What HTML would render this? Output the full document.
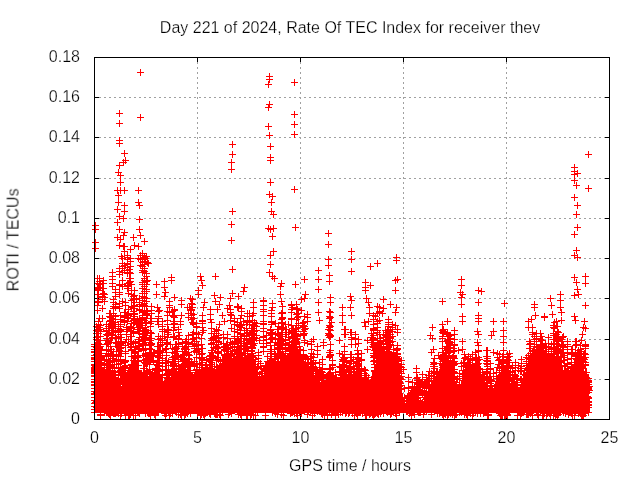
<!DOCTYPE html>
<html><head><meta charset="utf-8"><style>
html,body{margin:0;padding:0;background:#fff;width:640px;height:480px;overflow:hidden}
svg{display:block} .tx{will-change:transform}
svg text{font-family:"Liberation Sans",sans-serif;font-size:16px;fill:#000;stroke:#fff;stroke-width:0.25px}
</style></head><body>
<svg width="640" height="480" viewBox="0 0 640 480" shape-rendering="crispEdges">
<rect width="640" height="480" fill="#fff"/>
<path d="M197.5 57V419 M300.5 57V419 M403.5 57V419 M506.5 57V419 M94 379.5H609 M94 339.5H609 M94 298.5H609 M94 258.5H609 M94 218.5H609 M94 178.5H609 M94 137.5H609 M94 97.5H609" stroke="#a0a0a0" stroke-width="1" stroke-dasharray="2 3" fill="none"/>
<path d="M94.5 419v-5M94.5 57v5M197.5 419v-5M197.5 57v5M300.5 419v-5M300.5 57v5M403.5 419v-5M403.5 57v5M506.5 419v-5M506.5 57v5M609.5 419v-5M609.5 57v5M94 419.5h5M610 419.5h-5M94 379.5h5M610 379.5h-5M94 339.5h5M610 339.5h-5M94 298.5h5M610 298.5h-5M94 258.5h5M610 258.5h-5M94 218.5h5M610 218.5h-5M94 178.5h5M610 178.5h-5M94 137.5h5M610 137.5h-5M94 97.5h5M610 97.5h-5M94 57.5h5M610 57.5h-5" stroke="#000" stroke-width="1" fill="none"/>
<path d="M94 413L94 357 95 357 96 357 97 357 98 357 99 357 100 357 101 362 102 367 103 372 104 372 105 372 106 372 107 372 108 372 109 372 110 372 111 372 112 372 113 372 114 375 115 377 116 380 117 382 118 385 119 387 120 390 121 387 122 385 123 382 124 380 125 377 126 374 127 372 128 369 129 367 130 364 131 365 132 365 133 366 134 366 135 367 136 368 137 368 138 369 139 370 140 371 141 372 142 373 143 374 144 375 145 376 146 377 147 378 148 379 149 378 150 377 151 376 152 375 153 374 154 373 155 372 156 374 157 375 158 376 159 378 160 380 161 381 162 382 163 384 164 384 165 384 166 384 167 384 168 384 169 384 170 384 171 384 172 384 173 384 174 381 175 378 176 375 177 373 178 370 179 367 180 364 181 365 182 366 183 366 184 367 185 368 186 369 187 369 188 370 189 371 190 372 191 372 192 373 193 374 194 373 195 373 196 372 197 371 198 370 199 370 200 369 201 368 202 368 203 367 204 367 205 367 206 368 207 368 208 368 209 368 210 368 211 369 212 369 213 369 214 369 215 369 216 368 217 368 218 368 219 368 220 368 221 367 222 367 223 367 224 366 225 366 226 366 227 365 228 364 229 364 230 364 231 363 232 362 233 362 234 362 235 361 236 360 237 360 238 360 239 359 240 358 241 358 242 358 243 357 244 356 245 356 246 356 247 355 248 354 249 354 250 354 251 353 252 352 253 352 254 357 255 362 256 367 257 372 258 377 259 378 260 378 261 379 262 379 263 380 264 376 265 372 266 368 267 364 268 360 269 360 270 360 271 361 272 361 273 361 274 361 275 361 276 362 277 362 278 362 279 361 280 360 281 359 282 359 283 358 284 357 285 356 286 355 287 354 288 353 289 352 290 352 291 351 292 350 293 349 294 350 295 350 296 351 297 352 298 353 299 353 300 354 301 356 302 357 303 359 304 360 305 362 306 364 307 365 308 367 309 368 310 370 311 372 312 373 313 374 314 376 315 378 316 379 317 380 318 382 319 383 320 384 321 385 322 386 323 387 324 385 325 383 326 381 327 378 328 376 329 374 330 372 331 373 332 374 333 375 334 376 335 376 336 377 337 378 338 379 339 379 340 379 341 378 342 378 343 378 344 378 345 378 346 377 347 377 348 377 349 378 350 378 351 378 352 379 353 380 354 380 355 380 356 381 357 382 358 382 359 382 360 383 361 384 362 384 363 384 364 385 365 386 366 386 367 386 368 387 369 384 370 381 371 378 372 375 373 372 374 369 375 366 376 363 377 360 378 357 379 356 380 356 381 355 382 354 383 353 384 353 385 352 386 353 387 353 388 354 389 355 390 356 391 356 392 357 393 360 394 363 395 366 396 370 397 373 398 376 399 379 400 382 401 386 402 391 403 395 404 400 405 404 406 404 407 404 408 405 409 405 410 405 411 405 412 405 413 406 414 406 415 406 416 406 417 405 418 404 419 404 420 404 421 403 422 402 423 402 424 400 425 397 426 395 427 392 428 390 429 388 430 386 431 384 432 382 433 380 434 378 435 377 436 375 437 374 438 372 439 371 440 369 441 367 442 364 443 362 444 359 445 357 446 358 447 358 448 359 449 360 450 361 451 361 452 362 453 368 454 373 455 378 456 384 457 385 458 386 459 386 460 387 461 382 462 378 463 374 464 369 465 368 466 368 467 368 468 367 469 366 470 366 471 366 472 367 473 367 474 367 475 368 476 368 477 368 478 368 479 369 480 369 481 374 482 378 483 383 484 387 485 392 486 392 487 392 488 391 489 391 490 391 491 390 492 390 493 390 494 387 495 384 496 380 497 377 498 374 499 373 500 373 501 372 502 372 503 371 504 371 505 370 506 372 507 375 508 377 509 380 510 382 511 384 512 387 513 388 514 388 515 388 516 389 517 390 518 390 519 388 520 386 521 384 522 382 523 379 524 376 525 374 526 371 527 368 528 366 529 363 530 360 531 360 532 359 533 358 534 358 535 358 536 357 537 356 538 356 539 356 540 355 541 355 542 355 543 355 544 355 545 354 546 354 547 354 548 354 549 354 550 354 551 354 552 355 553 355 554 356 555 356 556 356 557 357 558 357 559 358 560 358 561 361 562 365 563 368 564 371 565 375 566 378 567 377 568 376 569 375 570 374 571 373 572 372 573 372 574 371 575 370 576 370 577 370 578 369 579 368 580 368 581 368 582 367 583 369 584 370 585 372 586 373 587 375 588 376 589 378L590 413Z" fill="#f00"/>
<path transform="translate(0 .5)" d="M91 344h7M91 349h7M91 351h7M91 359h7M91 364h7M91 369h7M91 351h7M91 355h7M91 357h7M91 365h7M91 370h7M91 368h7M91 372h7M91 371h7M91 375h7M91 379h7M91 381h7M91 384h7M91 393h7M91 391h7M91 400h7M91 403h7M92 359h7M92 357h7M92 361h7M92 366h7M92 370h7M92 402h7M93 326h7M93 330h7M93 333h7M93 337h7M93 339h7M93 347h7M93 354h7M93 359h7M93 369h7M93 372h7M93 376h7M93 382h7M93 381h7M93 392h7M93 392h7M93 397h7M93 401h7M93 407h7M94 278h7M94 283h7M94 288h7M94 289h7M94 294h7M94 301h7M94 310h7M94 305h7M94 327h7M94 331h7M94 337h7M94 336h7M94 342h7M94 345h7M94 337h7M94 340h7M94 343h7M94 346h7M94 352h7M94 349h7M94 346h7M94 350h7M94 354h7M94 358h7M95 287h7M95 290h7M95 294h7M95 302h7M95 321h7M95 324h7M95 329h7M95 343h7M95 346h7M95 353h7M95 355h7M95 362h7M95 330h7M95 333h7M95 340h7M95 344h7M95 351h7M95 348h7M95 360h7M95 361h7M96 278h7M96 281h7M96 284h7M96 318h7M96 327h7M96 344h7M96 348h7M96 347h7M96 350h7M96 357h7M96 355h7M96 360h7M96 364h7M96 364h7M97 283h7M97 287h7M97 325h7M97 329h7M97 331h7M97 336h7M97 340h7M97 346h7M97 350h7M97 356h7M97 359h7M97 353h7M97 368h7M97 365h7M97 369h7M97 374h7M97 367h7M97 370h7M97 411h7M97 414h7M97 415h7M98 358h7M98 362h7M98 360h7M98 364h7M98 367h7M98 349h7M98 353h7M98 357h7M98 363h7M98 364h7M98 365h7M98 373h7M98 358h7M98 363h7M98 368h7M98 374h7M99 283h7M99 288h7M99 294h7M99 297h7M99 296h7M99 299h7M99 308h7M99 318h7M99 372h7M100 280h7M100 283h7M100 288h7M100 293h7M100 370h7M100 371h7M101 294h7M101 297h7M101 301h7M101 364h7M101 367h7M101 371h7M101 412h7M103 330h7M103 334h7M103 324h7M103 328h7M103 331h7M103 338h7M103 344h7M103 350h7M103 356h7M103 350h7M103 355h7M103 369h7M103 349h7M103 353h7M103 359h7M103 363h7M103 363h7M103 370h7M103 372h7M103 411h7M103 411h7M103 412h7M103 412h7M104 335h7M104 340h7M104 343h7M104 365h7M105 326h7M105 330h7M105 333h7M105 342h7M105 343h7M105 341h7M105 349h7M105 360h7M105 354h7M105 370h7M105 361h7M105 413h7M105 412h7M106 313h7M106 316h7M106 321h7M106 324h7M106 328h7M106 365h7M106 414h7M107 313h7M107 317h7M107 320h7M107 342h7M107 346h7M107 351h7M107 356h7M107 361h7M107 365h7M107 366h7M107 362h7M107 365h7M107 370h7M107 372h7M107 413h7M107 415h7M108 328h7M108 316h7M108 321h7M108 325h7M108 327h7M108 334h7M108 338h7M108 349h7M108 338h7M108 351h7M108 375h7M109 272h7M109 276h7M109 279h7M109 283h7M109 286h7M109 318h7M109 323h7M109 326h7M109 332h7M109 337h7M109 335h7M109 355h7M109 360h7M109 364h7M109 364h7M109 367h7M109 354h7M109 358h7M109 364h7M109 368h7M109 370h7M109 377h7M109 373h7M109 368h7M109 371h7M109 374h7M110 299h7M110 302h7M110 306h7M110 308h7M110 313h7M110 315h7M110 322h7M110 324h7M110 330h7M110 351h7M110 355h7M110 381h7M110 413h7M111 364h7M111 364h7M111 367h7M111 371h7M111 375h7M111 379h7M111 381h7M111 368h7M111 371h7M111 378h7M111 379h7M111 382h7M111 372h7M111 377h7M111 379h7M111 411h7M111 413h7M111 413h7M112 289h7M112 292h7M112 296h7M112 304h7M112 307h7M112 316h7M112 319h7M112 322h7M112 326h7M112 331h7M112 342h7M112 374h7M112 380h7M112 383h7M112 382h7M112 385h7M112 413h7M112 413h7M112 413h7M112 413h7M113 338h7M113 343h7M113 346h7M113 355h7M113 355h7M113 356h7M113 359h7M113 360h7M113 364h7M113 389h7M113 384h7M113 388h7M113 412h7M114 346h7M114 411h7M114 412h7M115 324h7M115 328h7M115 332h7M115 336h7M115 338h7M115 345h7M115 354h7M115 337h7M115 341h7M115 344h7M115 347h7M115 355h7M115 364h7M115 360h7M115 361h7M115 371h7M115 368h7M115 375h7M115 390h7M115 380h7M115 390h7M115 413h7M116 268h7M116 271h7M116 274h7M116 284h7M116 285h7M116 292h7M116 294h7M116 306h7M116 308h7M116 306h7M116 303h7M116 347h7M116 350h7M116 372h7M116 382h7M116 387h7M116 389h7M117 324h7M117 321h7M117 326h7M117 330h7M117 334h7M117 315h7M117 319h7M117 324h7M117 330h7M117 329h7M117 341h7M117 342h7M117 331h7M117 334h7M117 359h7M117 360h7M117 363h7M117 367h7M117 374h7M117 372h7M117 344h7M117 348h7M117 351h7M117 359h7M117 356h7M117 371h7M117 370h7M117 375h7M117 371h7M117 386h7M117 378h7M117 388h7M117 413h7M117 412h7M117 387h7M117 390h7M117 378h7M117 382h7M117 384h7M117 388h7M117 415h7M117 415h7M117 411h7M118 256h7M118 337h7M118 341h7M118 343h7M118 347h7M118 351h7M118 372h7M118 369h7M118 372h7M118 379h7M118 411h7M118 413h7M119 258h7M119 263h7M119 266h7M119 268h7M119 272h7M119 280h7M119 284h7M119 286h7M119 301h7M120 387h7M120 391h7M121 251h7M121 246h7M121 265h7M121 270h7M121 312h7M121 316h7M121 322h7M121 317h7M121 320h7M121 362h7M121 366h7M121 373h7M121 374h7M121 376h7M121 383h7M121 377h7M121 390h7M121 412h7M122 302h7M122 305h7M122 312h7M122 315h7M122 342h7M122 345h7M122 351h7M122 353h7M122 365h7M122 360h7M122 365h7M122 368h7M122 370h7M122 380h7M122 378h7M122 361h7M122 365h7M122 367h7M122 377h7M122 380h7M122 381h7M122 384h7M122 413h7M122 411h7M122 415h7M123 327h7M123 331h7M123 334h7M123 339h7M124 255h7M124 257h7M124 259h7M124 267h7M124 273h7M124 264h7M124 263h7M124 270h7M124 283h7M124 273h7M124 285h7M124 288h7M124 314h7M124 317h7M124 321h7M124 329h7M124 412h7M125 283h7M125 286h7M125 293h7M125 309h7M125 313h7M125 315h7M125 318h7M125 339h7M125 415h7M125 413h7M126 269h7M126 272h7M126 278h7M126 282h7M126 374h7M126 372h7M126 375h7M126 412h7M126 415h7M126 414h7M127 249h7M127 258h7M127 261h7M127 266h7M127 273h7M127 278h7M127 281h7M127 327h7M127 330h7M127 326h7M127 330h7M127 336h7M127 336h7M127 344h7M127 343h7M127 347h7M127 414h7M127 412h7M127 414h7M127 411h7M128 284h7M128 290h7M128 294h7M128 300h7M128 306h7M128 307h7M128 323h7M128 328h7M128 331h7M128 336h7M128 341h7M128 347h7M128 346h7M128 350h7M128 349h7M128 369h7M128 364h7M128 343h7M128 347h7M128 350h7M128 356h7M129 412h7M130 296h7M130 299h7M130 306h7M130 311h7M130 308h7M130 316h7M130 320h7M130 327h7M130 332h7M130 333h7M130 343h7M130 360h7M130 413h7M130 411h7M130 415h7M131 290h7M131 295h7M131 298h7M131 302h7M131 305h7M131 308h7M131 314h7M131 313h7M131 318h7M131 319h7M131 322h7M131 351h7M131 355h7M131 358h7M131 365h7M131 352h7M131 356h7M131 360h7M131 362h7M131 371h7M131 370h7M131 353h7M131 357h7M131 364h7M131 367h7M131 366h7M131 367h7M132 342h7M132 347h7M132 349h7M132 352h7M132 355h7M132 363h7M132 366h7M132 361h7M132 366h7M132 364h7M132 368h7M132 365h7M132 368h7M132 370h7M132 412h7M132 412h7M132 415h7M133 299h7M133 370h7M134 319h7M134 323h7M134 329h7M134 356h7M134 412h7M135 258h7M135 321h7M135 324h7M135 331h7M135 343h7M135 345h7M135 349h7M135 355h7M135 360h7M135 341h7M135 346h7M135 351h7M135 357h7M135 361h7M135 365h7M135 371h7M135 370h7M135 412h7M136 304h7M136 309h7M136 310h7M136 318h7M136 298h7M136 302h7M136 306h7M136 310h7M136 319h7M136 324h7M136 326h7M136 325h7M136 322h7M136 327h7M136 333h7M136 337h7M136 339h7M136 348h7M136 345h7M136 413h7M136 411h7M136 411h7M137 255h7M137 259h7M137 265h7M137 323h7M139 262h7M139 266h7M139 270h7M139 272h7M139 282h7M139 284h7M139 288h7M139 288h7M139 296h7M139 300h7M139 293h7M139 304h7M139 304h7M139 311h7M139 319h7M139 344h7M139 325h7M139 293h7M139 298h7M139 300h7M139 305h7M139 306h7M139 312h7M139 315h7M139 317h7M139 319h7M139 328h7M139 330h7M140 334h7M140 337h7M140 343h7M140 345h7M140 350h7M140 336h7M140 340h7M140 344h7M140 349h7M140 355h7M140 368h7M140 372h7M140 379h7M141 293h7M141 257h7M141 261h7M141 264h7M141 271h7M141 268h7M141 284h7M141 280h7M141 278h7M141 286h7M141 305h7M141 291h7M141 297h7M141 303h7M141 310h7M141 305h7M141 310h7M141 338h7M141 334h7M141 320h7M141 362h7M141 334h7M141 368h7M141 373h7M141 375h7M142 323h7M142 327h7M142 329h7M142 335h7M142 333h7M142 338h7M142 344h7M142 344h7M142 353h7M142 360h7M142 363h7M142 331h7M142 337h7M142 339h7M142 342h7M142 348h7M142 356h7M142 353h7M142 354h7M142 359h7M142 374h7M142 353h7M142 380h7M142 381h7M142 373h7M142 378h7M142 411h7M142 413h7M143 256h7M143 273h7M143 276h7M143 281h7M143 284h7M143 289h7M143 291h7M143 306h7M143 298h7M143 310h7M143 301h7M143 313h7M143 333h7M143 314h7M143 318h7M143 322h7M143 330h7M143 356h7M143 361h7M143 364h7M143 370h7M143 374h7M143 376h7M144 262h7M144 280h7M144 311h7M144 315h7M144 358h7M144 363h7M144 371h7M144 412h7M145 263h7M145 413h7M146 344h7M146 348h7M146 338h7M146 342h7M146 345h7M146 352h7M146 359h7M146 358h7M146 359h7M146 362h7M146 353h7M146 357h7M146 364h7M146 369h7M146 371h7M146 374h7M146 380h7M146 413h7M147 318h7M147 323h7M147 326h7M147 332h7M147 333h7M147 340h7M147 344h7M147 349h7M147 345h7M147 357h7M147 355h7M147 352h7M147 377h7M147 361h7M147 372h7M147 376h7M147 415h7M147 413h7M148 306h7M148 310h7M148 313h7M148 318h7M148 321h7M148 333h7M148 338h7M148 343h7M148 338h7M148 354h7M148 352h7M148 344h7M149 378h7M149 379h7M150 352h7M150 356h7M150 360h7M150 361h7M151 352h7M151 373h7M151 378h7M151 372h7M151 375h7M151 373h7M151 378h7M151 414h7M152 368h7M152 370h7M152 374h7M152 411h7M152 412h7M152 413h7M152 415h7M153 364h7M153 369h7M153 372h7M153 374h7M153 379h7M153 411h7M154 356h7M154 360h7M154 365h7M154 371h7M154 346h7M154 350h7M154 353h7M154 362h7M154 368h7M154 371h7M154 369h7M154 380h7M154 374h7M154 379h7M154 412h7M155 311h7M155 316h7M155 318h7M155 324h7M155 336h7M155 339h7M155 346h7M155 353h7M155 351h7M155 357h7M155 355h7M155 357h7M155 362h7M155 352h7M155 355h7M155 360h7M155 365h7M155 369h7M155 370h7M155 371h7M155 380h7M155 375h7M155 412h7M156 362h7M156 350h7M156 353h7M156 357h7M156 363h7M156 369h7M156 376h7M156 374h7M156 379h7M157 338h7M157 342h7M157 345h7M157 351h7M157 377h7M157 382h7M157 384h7M158 381h7M158 384h7M159 321h7M159 326h7M159 329h7M159 331h7M159 342h7M159 340h7M159 350h7M159 358h7M159 352h7M159 338h7M159 342h7M159 344h7M159 363h7M159 366h7M159 370h7M159 375h7M159 383h7M159 377h7M159 382h7M161 331h7M161 336h7M161 411h7M161 411h7M161 413h7M162 349h7M162 360h7M162 363h7M162 370h7M162 382h7M162 386h7M162 415h7M163 342h7M163 348h7M163 352h7M163 355h7M163 362h7M163 369h7M163 375h7M163 374h7M163 383h7M163 412h7M163 413h7M164 311h7M164 315h7M164 320h7M164 324h7M164 332h7M164 337h7M164 330h7M164 343h7M164 373h7M164 374h7M164 378h7M164 380h7M164 382h7M165 329h7M165 334h7M165 386h7M165 379h7M165 383h7M165 386h7M165 361h7M165 365h7M165 370h7M165 377h7M165 382h7M165 411h7M166 301h7M166 305h7M166 307h7M166 312h7M166 312h7M166 377h7M166 381h7M166 412h7M166 411h7M166 415h7M167 344h7M167 386h7M167 411h7M167 413h7M167 412h7M168 371h7M168 375h7M168 381h7M168 384h7M168 371h7M168 375h7M168 382h7M168 381h7M169 348h7M169 352h7M169 357h7M169 359h7M169 362h7M169 373h7M169 370h7M169 373h7M169 372h7M169 375h7M169 381h7M169 413h7M169 377h7M169 377h7M169 380h7M169 385h7M170 316h7M170 321h7M170 324h7M170 330h7M170 336h7M170 337h7M170 359h7M170 363h7M170 366h7M170 375h7M170 381h7M170 377h7M170 359h7M170 364h7M170 365h7M170 369h7M170 372h7M170 382h7M171 297h7M171 309h7M171 315h7M171 310h7M171 321h7M171 323h7M171 317h7M171 321h7M171 336h7M171 327h7M171 353h7M171 369h7M171 374h7M171 377h7M171 365h7M171 368h7M171 375h7M171 380h7M171 379h7M171 377h7M171 381h7M171 349h7M171 353h7M171 356h7M171 363h7M171 368h7M171 373h7M171 369h7M171 376h7M171 376h7M172 344h7M172 347h7M172 351h7M172 358h7M172 356h7M172 359h7M173 344h7M173 348h7M173 351h7M173 355h7M173 368h7M173 371h7M173 378h7M173 383h7M173 412h7M174 351h7M174 356h7M175 329h7M175 332h7M175 338h7M175 344h7M175 339h7M175 343h7M175 346h7M175 356h7M175 361h7M175 366h7M175 359h7M175 356h7M175 381h7M175 414h7M175 411h7M176 335h7M176 372h7M176 376h7M176 371h7M176 376h7M177 324h7M177 357h7M177 373h7M177 412h7M177 414h7M178 415h7M179 342h7M179 346h7M179 351h7M179 355h7M179 357h7M179 364h7M179 364h7M179 411h7M179 411h7M180 355h7M180 360h7M180 364h7M180 367h7M180 371h7M180 412h7M181 348h7M181 349h7M181 351h7M181 354h7M181 358h7M181 359h7M181 363h7M181 365h7M181 358h7M181 363h7M181 367h7M181 372h7M181 411h7M181 411h7M181 415h7M182 341h7M182 347h7M182 360h7M182 364h7M182 369h7M182 411h7M182 414h7M182 411h7M183 339h7M183 343h7M183 349h7M183 352h7M183 353h7M184 307h7M184 371h7M184 413h7M185 313h7M185 317h7M185 335h7M185 339h7M185 344h7M185 342h7M185 346h7M185 352h7M185 354h7M185 363h7M185 362h7M185 365h7M185 370h7M185 355h7M185 358h7M185 361h7M185 364h7M186 307h7M186 355h7M186 359h7M186 366h7M186 370h7M187 365h7M187 370h7M187 372h7M187 413h7M188 309h7M188 313h7M188 310h7M188 315h7M188 317h7M188 319h7M188 362h7M189 299h7M189 307h7M189 304h7M189 334h7M189 339h7M189 343h7M190 314h7M190 318h7M190 323h7M190 324h7M190 332h7M190 338h7M191 341h7M191 346h7M191 348h7M191 351h7M191 361h7M191 365h7M191 366h7M191 364h7M191 363h7M192 372h7M192 375h7M193 323h7M193 327h7M193 333h7M193 333h7M193 345h7M193 344h7M193 352h7M193 350h7M193 337h7M193 341h7M193 357h7M193 370h7M193 374h7M193 364h7M193 369h7M193 374h7M194 413h7M194 411h7M195 334h7M195 345h7M195 349h7M195 348h7M195 351h7M196 354h7M196 357h7M196 363h7M196 367h7M196 369h7M196 372h7M196 369h7M196 374h7M196 412h7M197 413h7M197 415h7M197 411h7M198 338h7M198 344h7M198 348h7M198 353h7M198 358h7M198 354h7M198 357h7M198 364h7M198 414h7M199 320h7M199 323h7M199 327h7M199 332h7M199 360h7M199 365h7M199 367h7M199 348h7M199 353h7M199 357h7M199 359h7M199 362h7M199 369h7M199 372h7M199 412h7M200 330h7M200 411h7M200 414h7M201 413h7M201 415h7M202 365h7M202 369h7M202 411h7M202 413h7M202 413h7M203 360h7M203 365h7M203 367h7M203 412h7M204 369h7M206 356h7M206 359h7M206 358h7M206 361h7M206 365h7M206 368h7M206 367h7M206 413h7M207 309h7M207 314h7M207 319h7M207 355h7M207 358h7M207 364h7M207 368h7M207 414h7M208 322h7M208 328h7M208 333h7M208 338h7M208 343h7M208 340h7M208 344h7M208 350h7M208 352h7M208 355h7M208 360h7M208 362h7M208 364h7M208 371h7M209 350h7M209 355h7M209 358h7M209 366h7M209 371h7M209 371h7M210 338h7M210 339h7M210 344h7M210 337h7M210 342h7M210 344h7M210 347h7M210 356h7M210 411h7M211 331h7M211 336h7M211 366h7M211 413h7M212 301h7M212 347h7M212 414h7M213 329h7M213 333h7M213 338h7M213 337h7M213 340h7M213 346h7M213 360h7M213 366h7M213 371h7M213 371h7M213 369h7M213 414h7M214 348h7M214 351h7M214 357h7M214 357h7M214 367h7M214 414h7M215 338h7M215 342h7M215 330h7M215 335h7M215 341h7M215 341h7M215 351h7M215 353h7M215 344h7M215 347h7M215 352h7M215 353h7M215 359h7M216 366h7M216 414h7M217 360h7M217 361h7M217 365h7M217 369h7M217 411h7M217 415h7M217 415h7M219 359h7M219 364h7M219 365h7M219 370h7M219 411h7M220 334h7M220 337h7M220 343h7M220 347h7M220 347h7M220 360h7M220 370h7M220 360h7M220 363h7M221 346h7M221 349h7M221 355h7M221 361h7M221 363h7M221 364h7M221 350h7M221 354h7M221 360h7M221 361h7M221 368h7M221 365h7M221 364h7M221 369h7M222 356h7M222 361h7M222 364h7M223 344h7M223 349h7M223 351h7M223 355h7M223 359h7M223 364h7M223 369h7M224 308h7M224 334h7M224 338h7M224 345h7M224 347h7M224 349h7M224 362h7M224 345h7M224 349h7M224 354h7M224 360h7M224 363h7M225 362h7M225 362h7M225 348h7M225 353h7M225 356h7M225 358h7M225 363h7M225 368h7M225 367h7M225 363h7M225 368h7M225 414h7M226 360h7M226 365h7M226 412h7M227 312h7M227 314h7M227 320h7M227 342h7M227 347h7M227 351h7M227 355h7M227 356h7M227 358h7M227 361h7M228 328h7M228 354h7M228 359h7M228 361h7M228 413h7M228 412h7M229 343h7M229 347h7M229 351h7M230 360h7M230 364h7M231 318h7M231 321h7M231 324h7M231 331h7M231 336h7M231 336h7M231 342h7M231 346h7M231 344h7M231 360h7M231 338h7M231 341h7M231 350h7M231 354h7M231 360h7M231 364h7M232 360h7M232 365h7M232 360h7M232 365h7M233 349h7M233 353h7M233 357h7M233 359h7M234 307h7M234 306h7M234 322h7M234 325h7M234 329h7M234 332h7M234 339h7M234 342h7M234 350h7M234 352h7M234 364h7M234 357h7M234 364h7M235 340h7M235 343h7M235 349h7M235 350h7M235 356h7M235 414h7M236 348h7M236 411h7M236 412h7M236 412h7M237 318h7M237 324h7M237 327h7M237 330h7M237 333h7M237 334h7M237 343h7M237 348h7M237 354h7M237 358h7M237 359h7M237 413h7M237 414h7M237 412h7M238 308h7M238 311h7M238 315h7M238 325h7M238 327h7M238 336h7M238 338h7M238 338h7M238 327h7M238 341h7M238 346h7M238 348h7M238 352h7M238 355h7M238 358h7M238 361h7M238 415h7M239 357h7M240 349h7M241 330h7M241 335h7M241 338h7M241 343h7M241 345h7M241 346h7M241 349h7M241 355h7M241 358h7M242 349h7M242 353h7M243 324h7M243 328h7M243 333h7M243 340h7M243 342h7M243 347h7M243 335h7M243 338h7M243 342h7M243 336h7M243 339h7M243 344h7M243 414h7M243 413h7M243 415h7M244 313h7M244 316h7M244 320h7M244 322h7M244 332h7M244 344h7M244 346h7M244 351h7M244 353h7M244 357h7M244 358h7M244 415h7M244 412h7M246 313h7M246 316h7M246 321h7M246 324h7M246 334h7M247 342h7M247 415h7M248 338h7M248 342h7M248 346h7M248 330h7M248 335h7M248 341h7M248 344h7M248 347h7M248 356h7M248 350h7M248 343h7M248 347h7M248 347h7M248 351h7M248 356h7M248 335h7M248 339h7M248 342h7M248 348h7M248 357h7M248 353h7M248 355h7M248 359h7M248 355h7M248 357h7M248 414h7M248 414h7M249 315h7M249 320h7M249 324h7M249 325h7M249 331h7M249 331h7M249 344h7M249 337h7M249 340h7M249 343h7M249 348h7M249 353h7M249 344h7M249 347h7M249 353h7M249 355h7M249 412h7M250 330h7M250 325h7M250 328h7M250 333h7M250 334h7M250 339h7M250 337h7M250 345h7M250 357h7M250 366h7M250 369h7M250 415h7M251 322h7M251 325h7M251 331h7M251 337h7M251 343h7M251 338h7M251 364h7M251 368h7M251 370h7M251 367h7M251 372h7M252 359h7M252 364h7M252 361h7M252 411h7M252 415h7M253 323h7M253 326h7M253 330h7M253 335h7M253 338h7M254 376h7M254 367h7M254 372h7M254 374h7M254 381h7M254 412h7M255 352h7M255 355h7M255 358h7M255 361h7M255 366h7M255 379h7M256 340h7M256 376h7M256 379h7M257 363h7M257 366h7M258 368h7M258 373h7M258 376h7M258 381h7M259 371h7M259 377h7M260 300h7M260 301h7M260 309h7M260 305h7M260 323h7M260 321h7M260 328h7M260 315h7M260 343h7M260 324h7M260 337h7M260 331h7M260 346h7M260 368h7M260 336h7M260 340h7M260 347h7M260 351h7M260 379h7M261 370h7M261 375h7M261 377h7M262 365h7M262 368h7M262 371h7M262 378h7M262 378h7M262 380h7M262 411h7M262 415h7M263 335h7M263 339h7M263 343h7M263 366h7M264 356h7M264 361h7M265 365h7M266 362h7M267 329h7M267 332h7M267 330h7M267 333h7M267 349h7M267 353h7M267 342h7M267 345h7M267 351h7M267 358h7M267 361h7M268 313h7M268 316h7M268 321h7M268 324h7M268 333h7M268 338h7M268 334h7M268 349h7M268 353h7M268 356h7M268 356h7M268 360h7M268 364h7M268 364h7M269 332h7M269 337h7M269 339h7M269 412h7M271 345h7M271 349h7M271 356h7M271 356h7M271 359h7M271 361h7M271 356h7M271 361h7M271 362h7M272 334h7M272 339h7M272 354h7M272 359h7M272 363h7M272 413h7M272 413h7M274 329h7M274 333h7M274 343h7M274 347h7M274 353h7M274 353h7M274 363h7M274 364h7M274 355h7M274 358h7M274 363h7M274 414h7M275 333h7M275 338h7M275 339h7M275 344h7M275 348h7M275 349h7M275 354h7M275 357h7M276 335h7M276 339h7M276 342h7M276 349h7M277 338h7M277 343h7M277 345h7M277 351h7M277 342h7M277 345h7M277 352h7M277 354h7M277 361h7M277 364h7M278 319h7M278 322h7M278 328h7M278 334h7M278 341h7M278 343h7M278 341h7M278 414h7M278 412h7M279 306h7M279 312h7M279 313h7M279 318h7M279 323h7M279 323h7M279 323h7M279 327h7M279 332h7M279 339h7M279 336h7M279 344h7M279 345h7M279 347h7M279 353h7M279 348h7M279 353h7M279 356h7M279 362h7M279 354h7M279 358h7M279 363h7M280 355h7M280 359h7M280 415h7M281 358h7M281 361h7M282 324h7M282 339h7M282 344h7M282 347h7M282 349h7M282 353h7M282 329h7M282 332h7M282 340h7M282 343h7M282 348h7M282 345h7M282 351h7M282 359h7M282 353h7M283 329h7M283 334h7M284 356h7M285 324h7M285 324h7M285 332h7M285 337h7M286 342h7M286 350h7M287 350h7M287 413h7M288 304h7M288 305h7M288 309h7M288 312h7M288 318h7M288 319h7M288 325h7M288 331h7M288 330h7M288 346h7M288 344h7M288 353h7M288 333h7M288 349h7M288 353h7M288 356h7M288 412h7M289 307h7M289 328h7M289 332h7M289 336h7M289 341h7M289 345h7M289 348h7M289 338h7M289 342h7M289 349h7M289 354h7M289 412h7M290 328h7M290 333h7M290 336h7M290 342h7M290 345h7M290 350h7M290 354h7M290 352h7M290 411h7M291 340h7M291 343h7M291 347h7M291 350h7M291 413h7M292 334h7M292 338h7M292 340h7M292 346h7M292 349h7M292 329h7M292 333h7M292 340h7M292 340h7M292 349h7M292 353h7M292 351h7M293 304h7M293 308h7M293 314h7M293 319h7M293 325h7M293 325h7M293 331h7M293 335h7M293 339h7M293 351h7M293 339h7M293 344h7M293 325h7M293 328h7M293 334h7M293 341h7M293 343h7M293 347h7M293 354h7M293 338h7M293 342h7M293 346h7M293 334h7M293 338h7M293 341h7M293 346h7M293 354h7M293 355h7M293 352h7M293 411h7M293 411h7M293 413h7M294 309h7M294 313h7M294 317h7M294 336h7M294 350h7M294 412h7M294 415h7M295 313h7M295 316h7M295 323h7M295 327h7M296 346h7M296 357h7M296 360h7M296 411h7M297 349h7M297 356h7M297 359h7M297 361h7M298 299h7M298 310h7M298 413h7M299 323h7M299 327h7M299 357h7M299 362h7M300 322h7M300 326h7M300 333h7M300 334h7M300 322h7M300 325h7M300 331h7M300 331h7M300 335h7M300 350h7M300 355h7M300 357h7M300 350h7M300 354h7M300 356h7M300 364h7M300 359h7M300 364h7M301 316h7M301 326h7M301 329h7M301 333h7M301 340h7M301 342h7M301 342h7M302 328h7M302 362h7M302 366h7M304 314h7M304 317h7M304 321h7M304 343h7M304 366h7M304 358h7M304 363h7M304 368h7M304 372h7M304 370h7M304 412h7M304 414h7M305 359h7M305 363h7M305 364h7M305 367h7M305 371h7M305 368h7M305 371h7M305 411h7M306 370h7M306 373h7M307 362h7M307 358h7M307 362h7M307 364h7M307 371h7M307 373h7M307 412h7M308 341h7M308 344h7M308 349h7M308 353h7M308 356h7M308 362h7M308 362h7M308 362h7M308 366h7M309 366h7M309 371h7M309 364h7M309 369h7M309 373h7M309 375h7M309 415h7M310 339h7M310 354h7M310 357h7M310 360h7M310 368h7M310 373h7M310 378h7M311 411h7M311 413h7M312 363h7M312 367h7M312 370h7M312 376h7M312 384h7M312 383h7M312 383h7M313 369h7M313 373h7M314 346h7M314 350h7M314 354h7M314 370h7M314 373h7M314 378h7M314 411h7M315 383h7M315 387h7M315 372h7M315 378h7M315 379h7M315 382h7M316 377h7M316 382h7M316 384h7M316 379h7M316 383h7M316 362h7M316 367h7M316 370h7M316 377h7M316 375h7M316 378h7M316 386h7M316 385h7M318 371h7M318 375h7M318 377h7M318 386h7M318 383h7M318 413h7M318 413h7M319 359h7M319 364h7M319 369h7M319 364h7M319 368h7M319 372h7M319 374h7M319 382h7M319 386h7M319 385h7M319 414h7M320 342h7M320 345h7M320 376h7M320 380h7M320 384h7M321 413h7M321 415h7M321 412h7M322 411h7M323 411h7M324 378h7M324 382h7M324 376h7M324 380h7M324 384h7M324 381h7M324 384h7M324 411h7M324 414h7M324 415h7M324 414h7M325 329h7M325 333h7M325 335h7M325 374h7M325 375h7M325 377h7M326 311h7M326 316h7M326 318h7M326 325h7M326 327h7M326 329h7M326 334h7M326 337h7M326 335h7M326 356h7M326 352h7M326 357h7M326 352h7M326 373h7M326 375h7M326 377h7M326 375h7M326 368h7M326 369h7M326 411h7M327 326h7M327 330h7M327 335h7M327 336h7M327 344h7M327 350h7M327 355h7M327 354h7M327 350h7M327 369h7M327 374h7M327 368h7M327 372h7M327 379h7M327 377h7M327 381h7M328 412h7M328 414h7M329 360h7M329 364h7M329 367h7M329 365h7M329 376h7M330 376h7M330 411h7M331 378h7M332 377h7M332 381h7M332 372h7M332 377h7M332 379h7M332 413h7M332 415h7M332 413h7M333 378h7M333 377h7M333 411h7M333 411h7M334 381h7M335 414h7M336 340h7M336 353h7M336 366h7M336 371h7M336 372h7M336 380h7M337 367h7M337 371h7M337 374h7M337 412h7M337 411h7M338 372h7M338 371h7M338 375h7M338 379h7M339 354h7M339 359h7M339 361h7M339 366h7M339 374h7M339 378h7M339 377h7M339 375h7M339 380h7M339 379h7M339 412h7M340 360h7M340 364h7M340 370h7M340 373h7M340 375h7M340 357h7M340 361h7M340 364h7M340 370h7M340 376h7M340 381h7M340 378h7M341 329h7M341 334h7M341 346h7M341 351h7M341 354h7M341 361h7M341 358h7M341 365h7M341 370h7M341 376h7M341 381h7M342 329h7M342 334h7M342 375h7M342 379h7M342 377h7M342 381h7M342 413h7M343 365h7M343 369h7M343 362h7M343 367h7M343 372h7M343 376h7M343 371h7M343 375h7M343 412h7M345 369h7M345 374h7M345 376h7M345 381h7M345 413h7M346 363h7M346 366h7M346 369h7M346 375h7M346 381h7M346 378h7M346 412h7M347 332h7M347 354h7M347 357h7M347 360h7M347 368h7M347 367h7M347 371h7M347 378h7M347 372h7M347 375h7M347 382h7M347 382h7M347 379h7M347 382h7M348 332h7M348 337h7M348 339h7M348 344h7M348 344h7M348 354h7M348 361h7M348 372h7M348 376h7M349 413h7M349 411h7M350 359h7M350 363h7M350 366h7M350 372h7M350 376h7M351 369h7M351 372h7M351 377h7M351 384h7M351 374h7M351 377h7M351 383h7M351 384h7M351 415h7M352 334h7M352 338h7M352 344h7M353 362h7M353 365h7M353 371h7M353 368h7M353 372h7M353 376h7M353 383h7M353 383h7M353 380h7M353 384h7M353 384h7M353 383h7M353 413h7M354 365h7M354 369h7M354 372h7M354 374h7M354 385h7M354 350h7M354 354h7M354 357h7M354 361h7M354 363h7M354 376h7M354 374h7M354 373h7M354 377h7M354 381h7M354 385h7M354 376h7M354 381h7M354 385h7M354 414h7M354 411h7M354 415h7M354 371h7M354 375h7M354 377h7M354 382h7M354 384h7M354 413h7M355 339h7M355 343h7M355 353h7M355 358h7M355 361h7M355 364h7M355 366h7M355 376h7M355 378h7M355 379h7M355 383h7M355 382h7M355 368h7M355 372h7M355 379h7M355 383h7M356 370h7M356 375h7M356 379h7M357 383h7M357 385h7M357 384h7M358 380h7M358 384h7M358 353h7M358 359h7M358 360h7M358 368h7M358 371h7M358 380h7M358 377h7M358 384h7M358 382h7M358 385h7M359 413h7M360 382h7M360 387h7M361 384h7M361 388h7M361 386h7M361 389h7M361 369h7M361 373h7M361 378h7M361 380h7M361 388h7M361 388h7M361 412h7M362 370h7M362 375h7M362 378h7M362 381h7M362 382h7M362 389h7M362 388h7M362 415h7M362 412h7M363 381h7M363 385h7M363 387h7M363 383h7M363 387h7M363 375h7M363 380h7M363 383h7M363 387h7M363 415h7M363 413h7M364 340h7M364 349h7M364 382h7M364 386h7M364 388h7M365 377h7M365 384h7M366 385h7M366 414h7M367 383h7M367 386h7M367 413h7M368 333h7M368 337h7M368 342h7M368 388h7M368 380h7M368 385h7M368 389h7M369 337h7M369 340h7M369 346h7M369 381h7M369 386h7M369 382h7M369 385h7M369 414h7M370 324h7M370 328h7M370 333h7M370 335h7M370 339h7M370 347h7M370 315h7M370 319h7M370 324h7M370 329h7M370 330h7M370 338h7M370 340h7M370 342h7M370 353h7M370 344h7M370 355h7M370 357h7M370 361h7M370 415h7M371 347h7M371 347h7M371 350h7M371 356h7M371 361h7M371 364h7M371 371h7M371 370h7M371 360h7M371 364h7M371 367h7M371 414h7M371 411h7M372 316h7M372 355h7M372 372h7M372 377h7M372 413h7M372 411h7M372 412h7M373 353h7M373 356h7M374 306h7M374 332h7M374 323h7M374 327h7M374 330h7M374 338h7M374 340h7M374 343h7M374 354h7M374 345h7M374 357h7M374 342h7M374 347h7M374 350h7M374 354h7M374 362h7M374 360h7M374 346h7M374 351h7M374 353h7M374 358h7M374 361h7M374 370h7M374 358h7M374 365h7M374 370h7M374 369h7M374 413h7M374 413h7M374 413h7M375 348h7M375 351h7M375 358h7M375 362h7M375 349h7M375 354h7M375 357h7M375 360h7M375 362h7M375 367h7M375 361h7M375 366h7M375 368h7M375 411h7M375 414h7M376 312h7M376 311h7M376 307h7M376 311h7M376 334h7M376 334h7M376 320h7M376 357h7M376 359h7M377 341h7M377 344h7M377 350h7M377 357h7M377 338h7M377 341h7M377 346h7M377 351h7M377 352h7M377 357h7M377 361h7M377 347h7M377 352h7M377 355h7M377 357h7M377 359h7M377 342h7M377 346h7M377 348h7M377 357h7M377 361h7M377 413h7M378 346h7M378 350h7M378 356h7M378 359h7M379 355h7M379 359h7M380 334h7M380 337h7M380 343h7M380 340h7M380 341h7M380 347h7M380 349h7M380 357h7M380 358h7M380 412h7M380 412h7M380 413h7M382 330h7M382 335h7M382 354h7M383 332h7M383 336h7M383 340h7M383 343h7M383 352h7M383 349h7M383 351h7M383 355h7M383 411h7M384 330h7M384 334h7M384 336h7M384 339h7M384 343h7M384 336h7M384 339h7M384 346h7M384 355h7M384 358h7M384 344h7M384 348h7M384 355h7M384 354h7M384 412h7M385 322h7M385 326h7M385 330h7M385 332h7M385 340h7M385 346h7M385 338h7M385 342h7M385 347h7M385 352h7M386 332h7M386 352h7M386 356h7M386 358h7M386 411h7M386 411h7M387 331h7M387 334h7M387 337h7M387 344h7M387 338h7M387 342h7M387 345h7M387 355h7M387 355h7M387 354h7M387 414h7M388 354h7M388 361h7M388 413h7M389 324h7M389 329h7M389 327h7M389 331h7M389 336h7M389 341h7M389 355h7M389 368h7M390 349h7M390 352h7M390 358h7M390 362h7M390 364h7M390 365h7M390 370h7M390 370h7M390 412h7M391 375h7M392 372h7M392 376h7M392 413h7M393 350h7M393 353h7M393 357h7M393 366h7M393 371h7M393 354h7M393 360h7M393 363h7M393 366h7M393 372h7M393 377h7M393 380h7M393 379h7M393 376h7M393 380h7M393 415h7M394 329h7M394 332h7M394 345h7M394 349h7M394 356h7M394 359h7M394 364h7M394 365h7M394 376h7M394 359h7M394 348h7M394 353h7M394 354h7M394 358h7M394 361h7M394 375h7M394 367h7M394 377h7M394 381h7M394 384h7M394 363h7M394 366h7M394 371h7M394 372h7M394 376h7M395 361h7M395 364h7M395 370h7M395 361h7M395 367h7M395 368h7M395 373h7M395 383h7M395 383h7M395 386h7M396 366h7M396 371h7M396 377h7M396 376h7M396 382h7M396 386h7M396 381h7M396 389h7M396 393h7M396 412h7M396 412h7M397 378h7M397 379h7M397 383h7M397 389h7M398 360h7M398 364h7M398 367h7M398 376h7M398 379h7M398 385h7M398 385h7M398 373h7M399 403h7M400 369h7M401 388h7M401 397h7M403 398h7M403 401h7M403 406h7M403 411h7M404 400h7M404 404h7M404 407h7M404 397h7M404 401h7M404 407h7M404 405h7M404 411h7M405 377h7M405 381h7M405 387h7M405 388h7M405 396h7M405 395h7M405 404h7M405 403h7M405 407h7M406 397h7M406 400h7M406 404h7M406 408h7M406 413h7M407 401h7M407 393h7M407 398h7M407 402h7M407 406h7M407 412h7M408 390h7M408 393h7M408 397h7M408 403h7M408 406h7M408 415h7M409 382h7M409 386h7M409 392h7M409 395h7M409 399h7M409 405h7M409 403h7M410 391h7M410 395h7M410 393h7M410 398h7M410 399h7M410 407h7M410 408h7M410 412h7M411 387h7M411 392h7M411 396h7M411 397h7M411 400h7M411 404h7M411 392h7M411 396h7M411 400h7M411 408h7M411 408h7M411 414h7M412 389h7M412 393h7M412 396h7M412 402h7M412 405h7M412 396h7M412 401h7M412 402h7M412 406h7M413 368h7M413 372h7M413 378h7M413 378h7M413 386h7M413 388h7M413 393h7M413 395h7M413 394h7M413 388h7M413 398h7M414 380h7M414 383h7M414 389h7M414 392h7M414 398h7M414 397h7M414 377h7M414 382h7M414 383h7M414 392h7M414 392h7M414 403h7M414 404h7M414 400h7M414 406h7M414 411h7M414 411h7M415 380h7M415 384h7M415 389h7M415 391h7M415 395h7M415 404h7M415 412h7M415 404h7M415 405h7M415 395h7M415 400h7M415 403h7M415 411h7M415 412h7M416 386h7M416 389h7M416 404h7M416 407h7M416 412h7M417 383h7M417 387h7M417 391h7M417 392h7M417 402h7M417 405h7M417 412h7M419 374h7M419 379h7M419 381h7M419 390h7M419 392h7M419 393h7M419 402h7M419 403h7M420 414h7M421 382h7M421 385h7M421 391h7M421 391h7M421 394h7M421 401h7M421 403h7M421 411h7M421 392h7M421 397h7M421 402h7M421 402h7M421 411h7M422 401h7M422 405h7M422 395h7M422 399h7M422 405h7M423 379h7M423 384h7M423 387h7M423 379h7M423 383h7M423 386h7M423 388h7M423 377h7M423 381h7M423 387h7M423 388h7M423 398h7M423 388h7M423 392h7M423 397h7M423 401h7M423 411h7M425 375h7M425 380h7M426 371h7M426 375h7M426 378h7M426 380h7M426 384h7M426 388h7M428 385h7M428 389h7M428 373h7M428 376h7M428 381h7M428 386h7M428 392h7M428 414h7M430 362h7M430 364h7M430 366h7M430 373h7M430 371h7M431 358h7M431 363h7M431 366h7M431 368h7M431 371h7M431 378h7M431 368h7M431 372h7M431 376h7M431 380h7M431 380h7M431 384h7M431 378h7M431 383h7M431 384h7M432 380h7M433 373h7M433 377h7M433 372h7M433 377h7M433 380h7M434 371h7M434 374h7M434 413h7M434 412h7M435 355h7M436 411h7M436 413h7M437 363h7M437 376h7M438 374h7M439 356h7M439 332h7M439 336h7M439 338h7M439 341h7M439 352h7M439 348h7M439 363h7M439 358h7M439 369h7M439 364h7M439 365h7M439 355h7M439 359h7M439 361h7M439 367h7M439 363h7M439 361h7M439 365h7M439 372h7M439 369h7M439 357h7M439 363h7M439 367h7M439 371h7M439 371h7M439 355h7M439 359h7M439 364h7M439 367h7M439 372h7M439 413h7M439 414h7M440 331h7M440 329h7M440 333h7M440 354h7M440 415h7M441 369h7M441 360h7M441 364h7M441 368h7M441 413h7M442 414h7M443 346h7M443 350h7M443 353h7M443 362h7M443 360h7M443 352h7M443 357h7M443 361h7M443 361h7M443 356h7M443 360h7M444 334h7M444 332h7M444 347h7M444 340h7M444 349h7M444 415h7M445 336h7M445 339h7M445 343h7M445 351h7M445 355h7M445 347h7M445 342h7M445 347h7M445 350h7M445 358h7M445 360h7M445 360h7M445 362h7M445 363h7M445 412h7M445 411h7M445 414h7M445 412h7M446 335h7M446 339h7M446 343h7M446 350h7M446 348h7M446 341h7M446 344h7M446 348h7M446 352h7M447 335h7M447 338h7M447 342h7M447 347h7M447 345h7M447 350h7M447 358h7M447 362h7M447 364h7M447 413h7M448 372h7M448 375h7M449 357h7M449 362h7M449 365h7M449 369h7M449 372h7M449 414h7M450 348h7M450 351h7M450 357h7M450 363h7M450 362h7M450 350h7M450 355h7M450 358h7M450 362h7M450 365h7M450 373h7M450 363h7M450 356h7M450 361h7M450 363h7M450 371h7M450 376h7M450 377h7M450 386h7M451 330h7M451 334h7M451 339h7M451 344h7M451 350h7M451 345h7M451 358h7M451 361h7M451 363h7M451 364h7M451 377h7M451 369h7M451 372h7M451 377h7M451 381h7M451 386h7M451 415h7M451 415h7M452 384h7M452 388h7M452 386h7M452 414h7M453 379h7M453 382h7M453 387h7M453 389h7M453 414h7M454 378h7M455 350h7M455 387h7M456 373h7M456 376h7M456 384h7M456 388h7M456 389h7M456 412h7M457 411h7M458 363h7M458 366h7M458 387h7M458 385h7M458 412h7M459 373h7M459 378h7M459 380h7M459 385h7M460 362h7M460 366h7M460 370h7M460 374h7M460 378h7M460 378h7M460 384h7M460 411h7M461 354h7M461 358h7M461 413h7M461 413h7M461 414h7M462 357h7M462 365h7M462 366h7M462 378h7M462 377h7M462 380h7M462 366h7M462 372h7M462 373h7M463 367h7M463 371h7M463 372h7M463 375h7M463 413h7M463 414h7M464 362h7M464 364h7M464 363h7M464 415h7M464 411h7M464 415h7M465 356h7M465 359h7M465 362h7M465 366h7M466 365h7M466 370h7M466 364h7M466 368h7M467 358h7M467 370h7M467 413h7M469 354h7M469 358h7M469 364h7M469 369h7M469 360h7M469 365h7M469 369h7M469 370h7M469 359h7M469 364h7M469 366h7M469 368h7M469 366h7M469 370h7M469 415h7M470 413h7M472 352h7M472 357h7M472 363h7M472 368h7M472 412h7M473 363h7M473 357h7M473 359h7M473 364h7M473 367h7M473 368h7M474 368h7M474 360h7M474 364h7M474 369h7M474 370h7M474 411h7M474 413h7M475 350h7M475 357h7M475 363h7M475 368h7M475 372h7M475 351h7M475 363h7M475 368h7M475 369h7M475 372h7M475 376h7M476 359h7M476 368h7M477 369h7M477 374h7M477 376h7M477 380h7M477 375h7M477 380h7M477 383h7M477 380h7M477 383h7M477 413h7M477 378h7M477 382h7M477 411h7M477 412h7M477 412h7M477 413h7M479 372h7M479 377h7M479 380h7M479 385h7M479 390h7M480 384h7M480 384h7M480 388h7M480 394h7M480 380h7M480 385h7M480 390h7M480 394h7M480 413h7M481 374h7M481 379h7M481 384h7M481 387h7M481 412h7M482 385h7M482 388h7M482 391h7M483 350h7M483 356h7M483 360h7M483 363h7M483 371h7M483 377h7M483 373h7M483 379h7M483 382h7M483 378h7M483 394h7M483 392h7M483 411h7M483 385h7M483 390h7M484 356h7M484 361h7M484 364h7M484 371h7M484 369h7M484 372h7M484 382h7M484 393h7M484 350h7M484 356h7M484 358h7M484 372h7M484 366h7M484 376h7M484 379h7M484 380h7M484 393h7M484 390h7M484 415h7M485 394h7M485 394h7M485 415h7M485 414h7M485 392h7M486 376h7M486 390h7M486 391h7M486 393h7M487 383h7M487 392h7M487 393h7M487 363h7M487 368h7M487 369h7M487 376h7M487 381h7M487 379h7M487 386h7M487 391h7M488 380h7M488 385h7M488 388h7M488 392h7M488 394h7M489 389h7M490 373h7M490 376h7M492 385h7M492 390h7M492 391h7M493 372h7M493 376h7M494 353h7M494 357h7M494 357h7M494 367h7M494 378h7M494 381h7M494 384h7M495 360h7M495 364h7M495 378h7M495 383h7M496 354h7M496 359h7M496 360h7M496 364h7M496 368h7M496 372h7M496 377h7M496 375h7M496 379h7M496 382h7M496 413h7M496 413h7M497 413h7M497 411h7M497 415h7M498 372h7M498 376h7M498 366h7M498 370h7M498 375h7M498 415h7M498 411h7M498 414h7M499 356h7M499 361h7M499 362h7M499 366h7M499 374h7M499 375h7M499 412h7M499 411h7M499 412h7M499 412h7M499 415h7M500 360h7M500 363h7M500 370h7M500 375h7M500 412h7M501 371h7M501 375h7M501 369h7M501 372h7M501 415h7M501 415h7M502 372h7M502 375h7M502 379h7M502 379h7M502 413h7M502 415h7M503 361h7M503 365h7M503 368h7M503 373h7M503 378h7M503 412h7M503 414h7M504 354h7M504 357h7M504 359h7M504 360h7M504 378h7M504 379h7M504 380h7M504 379h7M504 374h7M504 384h7M504 365h7M504 370h7M504 376h7M504 380h7M504 379h7M504 380h7M504 412h7M504 414h7M504 415h7M505 362h7M505 366h7M505 356h7M505 360h7M505 367h7M505 372h7M505 377h7M505 381h7M505 385h7M505 378h7M506 353h7M506 356h7M506 362h7M506 375h7M506 380h7M506 388h7M506 379h7M506 384h7M506 389h7M506 412h7M507 371h7M507 374h7M508 384h7M508 387h7M508 390h7M509 365h7M509 368h7M509 372h7M509 381h7M509 386h7M509 391h7M510 383h7M510 386h7M510 389h7M511 374h7M511 377h7M511 383h7M511 379h7M511 384h7M511 386h7M512 362h7M512 367h7M512 370h7M512 375h7M512 376h7M512 389h7M512 385h7M512 387h7M512 391h7M513 378h7M513 382h7M513 385h7M513 389h7M514 378h7M514 382h7M514 387h7M514 415h7M515 365h7M515 370h7M517 368h7M517 371h7M517 379h7M517 388h7M517 391h7M517 391h7M517 412h7M517 414h7M517 414h7M517 414h7M517 415h7M517 411h7M518 379h7M518 359h7M518 363h7M518 366h7M518 370h7M518 380h7M518 384h7M518 391h7M518 382h7M518 413h7M518 390h7M518 413h7M521 374h7M521 378h7M521 384h7M521 385h7M522 375h7M523 357h7M523 361h7M523 370h7M523 375h7M523 379h7M523 376h7M523 361h7M523 365h7M523 368h7M523 372h7M523 373h7M523 414h7M524 369h7M524 373h7M524 414h7M525 321h7M525 327h7M525 355h7M525 358h7M525 363h7M525 367h7M525 373h7M525 412h7M525 414h7M526 341h7M526 344h7M526 348h7M526 365h7M526 369h7M527 343h7M527 348h7M527 353h7M527 359h7M527 364h7M527 361h7M527 363h7M527 413h7M528 365h7M528 356h7M528 360h7M528 362h7M528 367h7M528 411h7M529 327h7M529 332h7M529 334h7M529 351h7M529 351h7M529 359h7M529 356h7M529 359h7M529 362h7M529 364h7M529 415h7M530 350h7M530 353h7M530 357h7M530 355h7M530 360h7M531 336h7M531 339h7M531 346h7M531 353h7M533 333h7M533 338h7M533 341h7M533 344h7M533 347h7M533 353h7M533 355h7M533 411h7M534 349h7M534 352h7M534 357h7M534 414h7M535 351h7M535 354h7M535 411h7M535 415h7M535 415h7M537 333h7M537 336h7M537 339h7M537 346h7M537 354h7M537 345h7M537 350h7M537 351h7M537 355h7M537 357h7M538 336h7M538 340h7M538 344h7M538 352h7M538 356h7M539 340h7M539 344h7M539 347h7M539 354h7M539 358h7M539 353h7M539 345h7M539 350h7M539 351h7M539 358h7M539 357h7M539 348h7M539 353h7M539 357h7M539 412h7M539 415h7M540 351h7M540 355h7M540 352h7M540 355h7M540 356h7M540 353h7M540 411h7M540 415h7M540 413h7M541 317h7M541 413h7M542 343h7M543 346h7M543 351h7M543 356h7M543 415h7M543 415h7M544 413h7M545 347h7M545 346h7M545 349h7M545 356h7M545 337h7M545 343h7M545 343h7M545 353h7M545 356h7M545 357h7M545 356h7M545 412h7M545 411h7M546 357h7M546 413h7M547 412h7M547 411h7M547 415h7M548 349h7M548 353h7M548 356h7M548 344h7M548 348h7M548 354h7M548 354h7M548 411h7M550 325h7M550 327h7M550 333h7M550 335h7M550 339h7M550 353h7M550 344h7M550 351h7M550 353h7M550 357h7M550 415h7M551 328h7M551 322h7M551 325h7M551 328h7M551 351h7M551 325h7M551 339h7M551 343h7M551 347h7M551 347h7M551 351h7M551 356h7M551 351h7M551 354h7M551 357h7M551 358h7M551 358h7M551 413h7M551 411h7M551 412h7M552 349h7M552 411h7M552 415h7M553 321h7M553 336h7M553 334h7M553 338h7M553 340h7M553 343h7M553 348h7M553 349h7M553 352h7M553 414h7M554 326h7M554 331h7M554 337h7M554 338h7M554 339h7M554 352h7M554 352h7M554 360h7M554 349h7M554 353h7M554 341h7M554 346h7M554 351h7M554 350h7M554 359h7M554 359h7M554 413h7M554 415h7M555 332h7M555 337h7M555 340h7M555 344h7M555 352h7M555 352h7M555 344h7M555 349h7M555 351h7M555 357h7M555 414h7M555 412h7M556 362h7M556 367h7M557 350h7M557 353h7M557 357h7M557 361h7M557 370h7M557 412h7M558 339h7M558 344h7M558 356h7M558 360h7M558 362h7M558 370h7M558 371h7M558 370h7M558 374h7M559 337h7M559 341h7M559 345h7M559 352h7M560 336h7M560 344h7M560 347h7M560 353h7M560 355h7M560 360h7M560 412h7M561 357h7M561 360h7M561 365h7M561 366h7M561 372h7M562 370h7M562 374h7M562 377h7M562 413h7M563 375h7M563 379h7M563 371h7M563 374h7M563 380h7M563 380h7M564 344h7M564 349h7M564 353h7M564 341h7M564 346h7M564 352h7M564 346h7M564 363h7M564 366h7M564 359h7M564 364h7M564 371h7M564 372h7M564 378h7M564 364h7M564 368h7M565 370h7M565 375h7M565 374h7M565 378h7M565 414h7M566 376h7M567 370h7M567 374h7M567 377h7M568 349h7M568 352h7M568 354h7M568 364h7M568 367h7M568 366h7M568 362h7M568 372h7M568 358h7M568 362h7M568 367h7M568 374h7M568 370h7M568 377h7M568 412h7M568 377h7M568 413h7M569 349h7M569 353h7M569 367h7M569 371h7M569 374h7M569 415h7M570 368h7M570 371h7M570 374h7M571 373h7M571 362h7M571 366h7M571 369h7M571 372h7M571 415h7M571 411h7M571 413h7M572 341h7M572 345h7M572 345h7M572 353h7M572 355h7M572 356h7M572 366h7M572 353h7M572 356h7M572 364h7M572 366h7M572 370h7M572 371h7M572 368h7M572 373h7M572 412h7M572 412h7M573 341h7M573 344h7M573 355h7M573 359h7M573 366h7M573 369h7M573 373h7M573 372h7M574 354h7M574 359h7M574 364h7M574 366h7M574 371h7M575 350h7M575 354h7M575 360h7M575 365h7M575 368h7M575 371h7M575 362h7M575 366h7M575 369h7M575 413h7M576 354h7M576 358h7M576 364h7M576 370h7M576 370h7M577 349h7M577 345h7M577 349h7M577 353h7M577 357h7M577 362h7M577 364h7M577 370h7M577 356h7M577 359h7M577 365h7M577 368h7M577 413h7M578 356h7M578 351h7M578 356h7M578 360h7M578 365h7M578 372h7M578 371h7M578 371h7M578 415h7M579 361h7M579 367h7M579 366h7M579 371h7M579 414h7M579 415h7M580 354h7M580 358h7M580 361h7M580 368h7M580 368h7M580 364h7M580 368h7M580 373h7M580 375h7M580 411h7M580 415h7M580 412h7M581 353h7M581 357h7M581 359h7M581 413h7M581 413h7M582 344h7M582 345h7M582 348h7M582 364h7M582 346h7M582 372h7M582 354h7M582 357h7M582 362h7M582 365h7M582 372h7M582 374h7M582 375h7M582 413h7M582 413h7M583 372h7M583 377h7M584 396h7M585 382h7M585 387h7M585 378h7M585 381h7M585 388h7M585 392h7M585 398h7M585 402h7M585 404h7M585 380h7M585 384h7M585 389h7M585 390h7M585 392h7M585 397h7M585 401h7M585 407h7M585 405h7M585 412h7M586 386h7M586 390h7M91 346h7M91 349h7M91 352h7M91 355h7M91 358h7M91 361h7M91 364h7M91 367h7M91 370h7M91 373h7M91 376h7M91 379h7M91 382h7M91 385h7M91 388h7M91 391h7M91 394h7M91 397h7M91 400h7M91 403h7M91 406h7M91 409h7M91 412h7M137 72h7M116 113h7M137 117h7M116 123h7M116 140h7M116 143h7M121 153h7M122 160h7M120 162h7M116 165h7M117 175h7M115 172h7M117 182h7M114 190h7M117 190h7M121 190h7M135 190h7M115 195h7M115 202h7M121 205h7M135 202h7M136 205h7M114 209h7M121 211h7M116 216h7M120 218h7M114 222h7M136 219h7M136 229h7M92 225h7M92 229h7M116 229h7M121 232h7M120 235h7M114 237h7M117 239h7M130 237h7M137 235h7M141 241h7M92 242h7M116 245h7M120 246h7M131 245h7M135 246h7M229 144h7M229 154h7M228 162h7M228 169h7M229 211h7M228 224h7M228 240h7M266 76h7M266 79h7M265 84h7M291 82h7M266 104h7M265 107h7M291 114h7M291 124h7M291 134h7M265 126h7M266 135h7M267 146h7M267 157h7M267 160h7M585 154h7M571 167h7M571 171h7M574 173h7M571 174h7M571 180h7M573 185h7M585 188h7M571 197h7M574 205h7M573 214h7M574 227h7M571 234h7M573 250h7M571 255h7M574 257h7M267 182h7M291 189h7M266 194h7M269 196h7M268 202h7M268 211h7M270 214h7M265 228h7M267 229h7M270 228h7M292 227h7M269 236h7M270 251h7M267 255h7M267 264h7M266 272h7M269 276h7M271 278h7M241 287h7M278 283h7M277 286h7M292 284h7M301 279h7M325 233h7M325 244h7M325 259h7M325 265h7M326 275h7M326 281h7M315 270h7M315 279h7M315 289h7M348 251h7M348 259h7M348 271h7M367 266h7M374 263h7M393 257h7M393 260h7M392 280h7M394 279h7M362 282h7M367 285h7M362 287h7M458 279h7M458 285h7M392 290h7M380 299h7M387 304h7M393 307h7M392 312h7M380 308h7M379 313h7M385 319h7M385 324h7M385 330h7M392 325h7M439 301h7M457 292h7M459 294h7M458 297h7M458 304h7M475 290h7M475 302h7M459 316h7M459 321h7M475 315h7M475 318h7M475 321h7M490 321h7M490 331h7M488 335h7M474 331h7M475 334h7M474 342h7M475 345h7M459 341h7M459 349h7M444 321h7M439 324h7M439 330h7M429 327h7M427 335h7M429 338h7M430 349h7M428 352h7M490 352h7M571 277h7M573 282h7M582 276h7M582 283h7M574 289h7M571 295h7M575 294h7M582 305h7M547 298h7M548 305h7M557 294h7M557 300h7M557 307h7M558 312h7M531 304h7M531 307h7M501 303h7M478 291h7M500 321h7M500 330h7M500 336h7M500 342h7M500 350h7M500 356h7M571 316h7M572 320h7M581 321h7M580 327h7M582 328h7M579 334h7M578 340h7M532 315h7M528 319h7M541 316h7M549 314h7M558 320h7M139 253h7M142 258h7M229 269h7M168 277h7M168 280h7M153 284h7M153 294h7M161 281h7M161 287h7M162 292h7M161 296h7M197 276h7M198 280h7M199 285h7M195 290h7M195 294h7M212 276h7M178 300h7M178 304h7M187 298h7M188 303h7M187 309h7M188 313h7M154 307h7M156 310h7M154 321h7M169 311h7M170 315h7M178 315h7M177 321h7M201 302h7M200 307h7M199 315h7M199 321h7M211 295h7M217 297h7M216 304h7M214 309h7M229 293h7M227 298h7M226 305h7M227 309h7M228 315h7M235 296h7M235 307h7M238 311h7M240 291h7M250 302h7M250 307h7M250 313h7M251 326h7M219 315h7M221 321h7M216 324h7M189 322h7M193 326h7M240 321h7M236 326h7M277 294h7M278 301h7M302 294h7M301 298h7M269 303h7M269 307h7M268 310h7M260 311h7M278 313h7M279 317h7M260 321h7M315 302h7M315 312h7M316 320h7M327 297h7M327 302h7M327 312h7M327 317h7M328 322h7M339 307h7M339 315h7M339 322h7M347 296h7M348 300h7M347 307h7M348 315h7M362 290h7M363 298h7M365 302h7M366 307h7M366 313h7M365 321h7M361 322h7M362 326h7M374 313h7M374 321h7M268 322h7M272 323h7M275 326h7M279 323h7M280 327h7M92 248h7" stroke="#f00" stroke-width="1" fill="none"/><path transform="translate(.5 0)" d="M94 341v7M94 346v7M94 348v7M94 356v7M94 361v7M94 366v7M94 348v7M94 352v7M94 354v7M94 362v7M94 367v7M94 365v7M94 369v7M94 368v7M94 372v7M94 376v7M94 378v7M94 381v7M94 390v7M94 388v7M94 397v7M94 400v7M95 356v7M95 354v7M95 358v7M95 363v7M95 367v7M95 399v7M96 323v7M96 327v7M96 330v7M96 334v7M96 336v7M96 344v7M96 351v7M96 356v7M96 366v7M96 369v7M96 373v7M96 379v7M96 378v7M96 389v7M96 389v7M96 394v7M96 398v7M96 404v7M97 275v7M97 280v7M97 285v7M97 286v7M97 291v7M97 298v7M97 307v7M97 302v7M97 324v7M97 328v7M97 334v7M97 333v7M97 339v7M97 342v7M97 334v7M97 337v7M97 340v7M97 343v7M97 349v7M97 346v7M97 343v7M97 347v7M97 351v7M97 355v7M98 284v7M98 287v7M98 291v7M98 299v7M98 318v7M98 321v7M98 326v7M98 340v7M98 343v7M98 350v7M98 352v7M98 359v7M98 327v7M98 330v7M98 337v7M98 341v7M98 348v7M98 345v7M98 357v7M98 358v7M99 275v7M99 278v7M99 281v7M99 315v7M99 324v7M99 341v7M99 345v7M99 344v7M99 347v7M99 354v7M99 352v7M99 357v7M99 361v7M99 361v7M100 280v7M100 284v7M100 322v7M100 326v7M100 328v7M100 333v7M100 337v7M100 343v7M100 347v7M100 353v7M100 356v7M100 350v7M100 365v7M100 362v7M100 366v7M100 371v7M100 364v7M100 367v7M100 408v7M100 411v7M100 412v7M101 355v7M101 359v7M101 357v7M101 361v7M101 364v7M101 346v7M101 350v7M101 354v7M101 360v7M101 361v7M101 362v7M101 370v7M101 355v7M101 360v7M101 365v7M101 371v7M102 280v7M102 285v7M102 291v7M102 294v7M102 293v7M102 296v7M102 305v7M102 315v7M102 369v7M103 277v7M103 280v7M103 285v7M103 290v7M103 367v7M103 368v7M104 291v7M104 294v7M104 298v7M104 361v7M104 364v7M104 368v7M104 409v7M106 327v7M106 331v7M106 321v7M106 325v7M106 328v7M106 335v7M106 341v7M106 347v7M106 353v7M106 347v7M106 352v7M106 366v7M106 346v7M106 350v7M106 356v7M106 360v7M106 360v7M106 367v7M106 369v7M106 408v7M106 408v7M106 409v7M106 409v7M107 332v7M107 337v7M107 340v7M107 362v7M108 323v7M108 327v7M108 330v7M108 339v7M108 340v7M108 338v7M108 346v7M108 357v7M108 351v7M108 367v7M108 358v7M108 410v7M108 409v7M109 310v7M109 313v7M109 318v7M109 321v7M109 325v7M109 362v7M109 411v7M110 310v7M110 314v7M110 317v7M110 339v7M110 343v7M110 348v7M110 353v7M110 358v7M110 362v7M110 363v7M110 359v7M110 362v7M110 367v7M110 369v7M110 410v7M110 412v7M111 325v7M111 313v7M111 318v7M111 322v7M111 324v7M111 331v7M111 335v7M111 346v7M111 335v7M111 348v7M111 372v7M112 269v7M112 273v7M112 276v7M112 280v7M112 283v7M112 315v7M112 320v7M112 323v7M112 329v7M112 334v7M112 332v7M112 352v7M112 357v7M112 361v7M112 361v7M112 364v7M112 351v7M112 355v7M112 361v7M112 365v7M112 367v7M112 374v7M112 370v7M112 365v7M112 368v7M112 371v7M113 296v7M113 299v7M113 303v7M113 305v7M113 310v7M113 312v7M113 319v7M113 321v7M113 327v7M113 348v7M113 352v7M113 378v7M113 410v7M114 361v7M114 361v7M114 364v7M114 368v7M114 372v7M114 376v7M114 378v7M114 365v7M114 368v7M114 375v7M114 376v7M114 379v7M114 369v7M114 374v7M114 376v7M114 408v7M114 410v7M114 410v7M115 286v7M115 289v7M115 293v7M115 301v7M115 304v7M115 313v7M115 316v7M115 319v7M115 323v7M115 328v7M115 339v7M115 371v7M115 377v7M115 380v7M115 379v7M115 382v7M115 410v7M115 410v7M115 410v7M115 410v7M116 335v7M116 340v7M116 343v7M116 352v7M116 352v7M116 353v7M116 356v7M116 357v7M116 361v7M116 386v7M116 381v7M116 385v7M116 409v7M117 343v7M117 408v7M117 409v7M118 321v7M118 325v7M118 329v7M118 333v7M118 335v7M118 342v7M118 351v7M118 334v7M118 338v7M118 341v7M118 344v7M118 352v7M118 361v7M118 357v7M118 358v7M118 368v7M118 365v7M118 372v7M118 387v7M118 377v7M118 387v7M118 410v7M119 265v7M119 268v7M119 271v7M119 281v7M119 282v7M119 289v7M119 291v7M119 303v7M119 305v7M119 303v7M119 300v7M119 344v7M119 347v7M119 369v7M119 379v7M119 384v7M119 386v7M120 321v7M120 318v7M120 323v7M120 327v7M120 331v7M120 312v7M120 316v7M120 321v7M120 327v7M120 326v7M120 338v7M120 339v7M120 328v7M120 331v7M120 356v7M120 357v7M120 360v7M120 364v7M120 371v7M120 369v7M120 341v7M120 345v7M120 348v7M120 356v7M120 353v7M120 368v7M120 367v7M120 372v7M120 368v7M120 383v7M120 375v7M120 385v7M120 410v7M120 409v7M120 384v7M120 387v7M120 375v7M120 379v7M120 381v7M120 385v7M120 412v7M120 412v7M120 408v7M121 253v7M121 334v7M121 338v7M121 340v7M121 344v7M121 348v7M121 369v7M121 366v7M121 369v7M121 376v7M121 408v7M121 410v7M122 255v7M122 260v7M122 263v7M122 265v7M122 269v7M122 277v7M122 281v7M122 283v7M122 298v7M123 384v7M123 388v7M124 248v7M124 243v7M124 262v7M124 267v7M124 309v7M124 313v7M124 319v7M124 314v7M124 317v7M124 359v7M124 363v7M124 370v7M124 371v7M124 373v7M124 380v7M124 374v7M124 387v7M124 409v7M125 299v7M125 302v7M125 309v7M125 312v7M125 339v7M125 342v7M125 348v7M125 350v7M125 362v7M125 357v7M125 362v7M125 365v7M125 367v7M125 377v7M125 375v7M125 358v7M125 362v7M125 364v7M125 374v7M125 377v7M125 378v7M125 381v7M125 410v7M125 408v7M125 412v7M126 324v7M126 328v7M126 331v7M126 336v7M127 252v7M127 254v7M127 256v7M127 264v7M127 270v7M127 261v7M127 260v7M127 267v7M127 280v7M127 270v7M127 282v7M127 285v7M127 311v7M127 314v7M127 318v7M127 326v7M127 409v7M128 280v7M128 283v7M128 290v7M128 306v7M128 310v7M128 312v7M128 315v7M128 336v7M128 412v7M128 410v7M129 266v7M129 269v7M129 275v7M129 279v7M129 371v7M129 369v7M129 372v7M129 409v7M129 412v7M129 411v7M130 246v7M130 255v7M130 258v7M130 263v7M130 270v7M130 275v7M130 278v7M130 324v7M130 327v7M130 323v7M130 327v7M130 333v7M130 333v7M130 341v7M130 340v7M130 344v7M130 411v7M130 409v7M130 411v7M130 408v7M131 281v7M131 287v7M131 291v7M131 297v7M131 303v7M131 304v7M131 320v7M131 325v7M131 328v7M131 333v7M131 338v7M131 344v7M131 343v7M131 347v7M131 346v7M131 366v7M131 361v7M131 340v7M131 344v7M131 347v7M131 353v7M132 409v7M133 293v7M133 296v7M133 303v7M133 308v7M133 305v7M133 313v7M133 317v7M133 324v7M133 329v7M133 330v7M133 340v7M133 357v7M133 410v7M133 408v7M133 412v7M134 287v7M134 292v7M134 295v7M134 299v7M134 302v7M134 305v7M134 311v7M134 310v7M134 315v7M134 316v7M134 319v7M134 348v7M134 352v7M134 355v7M134 362v7M134 349v7M134 353v7M134 357v7M134 359v7M134 368v7M134 367v7M134 350v7M134 354v7M134 361v7M134 364v7M134 363v7M134 364v7M135 339v7M135 344v7M135 346v7M135 349v7M135 352v7M135 360v7M135 363v7M135 358v7M135 363v7M135 361v7M135 365v7M135 362v7M135 365v7M135 367v7M135 409v7M135 409v7M135 412v7M136 296v7M136 367v7M137 316v7M137 320v7M137 326v7M137 353v7M137 409v7M138 255v7M138 318v7M138 321v7M138 328v7M138 340v7M138 342v7M138 346v7M138 352v7M138 357v7M138 338v7M138 343v7M138 348v7M138 354v7M138 358v7M138 362v7M138 368v7M138 367v7M138 409v7M139 301v7M139 306v7M139 307v7M139 315v7M139 295v7M139 299v7M139 303v7M139 307v7M139 316v7M139 321v7M139 323v7M139 322v7M139 319v7M139 324v7M139 330v7M139 334v7M139 336v7M139 345v7M139 342v7M139 410v7M139 408v7M139 408v7M140 252v7M140 256v7M140 262v7M140 320v7M142 259v7M142 263v7M142 267v7M142 269v7M142 279v7M142 281v7M142 285v7M142 285v7M142 293v7M142 297v7M142 290v7M142 301v7M142 301v7M142 308v7M142 316v7M142 341v7M142 322v7M142 290v7M142 295v7M142 297v7M142 302v7M142 303v7M142 309v7M142 312v7M142 314v7M142 316v7M142 325v7M142 327v7M143 331v7M143 334v7M143 340v7M143 342v7M143 347v7M143 333v7M143 337v7M143 341v7M143 346v7M143 352v7M143 365v7M143 369v7M143 376v7M144 290v7M144 254v7M144 258v7M144 261v7M144 268v7M144 265v7M144 281v7M144 277v7M144 275v7M144 283v7M144 302v7M144 288v7M144 294v7M144 300v7M144 307v7M144 302v7M144 307v7M144 335v7M144 331v7M144 317v7M144 359v7M144 331v7M144 365v7M144 370v7M144 372v7M145 320v7M145 324v7M145 326v7M145 332v7M145 330v7M145 335v7M145 341v7M145 341v7M145 350v7M145 357v7M145 360v7M145 328v7M145 334v7M145 336v7M145 339v7M145 345v7M145 353v7M145 350v7M145 351v7M145 356v7M145 371v7M145 350v7M145 377v7M145 378v7M145 370v7M145 375v7M145 408v7M145 410v7M146 253v7M146 270v7M146 273v7M146 278v7M146 281v7M146 286v7M146 288v7M146 303v7M146 295v7M146 307v7M146 298v7M146 310v7M146 330v7M146 311v7M146 315v7M146 319v7M146 327v7M146 353v7M146 358v7M146 361v7M146 367v7M146 371v7M146 373v7M147 259v7M147 277v7M147 308v7M147 312v7M147 355v7M147 360v7M147 368v7M147 409v7M148 260v7M148 410v7M149 341v7M149 345v7M149 335v7M149 339v7M149 342v7M149 349v7M149 356v7M149 355v7M149 356v7M149 359v7M149 350v7M149 354v7M149 361v7M149 366v7M149 368v7M149 371v7M149 377v7M149 410v7M150 315v7M150 320v7M150 323v7M150 329v7M150 330v7M150 337v7M150 341v7M150 346v7M150 342v7M150 354v7M150 352v7M150 349v7M150 374v7M150 358v7M150 369v7M150 373v7M150 412v7M150 410v7M151 303v7M151 307v7M151 310v7M151 315v7M151 318v7M151 330v7M151 335v7M151 340v7M151 335v7M151 351v7M151 349v7M151 341v7M152 375v7M152 376v7M153 349v7M153 353v7M153 357v7M153 358v7M154 349v7M154 370v7M154 375v7M154 369v7M154 372v7M154 370v7M154 375v7M154 411v7M155 365v7M155 367v7M155 371v7M155 408v7M155 409v7M155 410v7M155 412v7M156 361v7M156 366v7M156 369v7M156 371v7M156 376v7M156 408v7M157 353v7M157 357v7M157 362v7M157 368v7M157 343v7M157 347v7M157 350v7M157 359v7M157 365v7M157 368v7M157 366v7M157 377v7M157 371v7M157 376v7M157 409v7M158 308v7M158 313v7M158 315v7M158 321v7M158 333v7M158 336v7M158 343v7M158 350v7M158 348v7M158 354v7M158 352v7M158 354v7M158 359v7M158 349v7M158 352v7M158 357v7M158 362v7M158 366v7M158 367v7M158 368v7M158 377v7M158 372v7M158 409v7M159 359v7M159 347v7M159 350v7M159 354v7M159 360v7M159 366v7M159 373v7M159 371v7M159 376v7M160 335v7M160 339v7M160 342v7M160 348v7M160 374v7M160 379v7M160 381v7M161 378v7M161 381v7M162 318v7M162 323v7M162 326v7M162 328v7M162 339v7M162 337v7M162 347v7M162 355v7M162 349v7M162 335v7M162 339v7M162 341v7M162 360v7M162 363v7M162 367v7M162 372v7M162 380v7M162 374v7M162 379v7M164 328v7M164 333v7M164 408v7M164 408v7M164 410v7M165 346v7M165 357v7M165 360v7M165 367v7M165 379v7M165 383v7M165 412v7M166 339v7M166 345v7M166 349v7M166 352v7M166 359v7M166 366v7M166 372v7M166 371v7M166 380v7M166 409v7M166 410v7M167 308v7M167 312v7M167 317v7M167 321v7M167 329v7M167 334v7M167 327v7M167 340v7M167 370v7M167 371v7M167 375v7M167 377v7M167 379v7M168 326v7M168 331v7M168 383v7M168 376v7M168 380v7M168 383v7M168 358v7M168 362v7M168 367v7M168 374v7M168 379v7M168 408v7M169 298v7M169 302v7M169 304v7M169 309v7M169 309v7M169 374v7M169 378v7M169 409v7M169 408v7M169 412v7M170 341v7M170 383v7M170 408v7M170 410v7M170 409v7M171 368v7M171 372v7M171 378v7M171 381v7M171 368v7M171 372v7M171 379v7M171 378v7M172 345v7M172 349v7M172 354v7M172 356v7M172 359v7M172 370v7M172 367v7M172 370v7M172 369v7M172 372v7M172 378v7M172 410v7M172 374v7M172 374v7M172 377v7M172 382v7M173 313v7M173 318v7M173 321v7M173 327v7M173 333v7M173 334v7M173 356v7M173 360v7M173 363v7M173 372v7M173 378v7M173 374v7M173 356v7M173 361v7M173 362v7M173 366v7M173 369v7M173 379v7M174 294v7M174 306v7M174 312v7M174 307v7M174 318v7M174 320v7M174 314v7M174 318v7M174 333v7M174 324v7M174 350v7M174 366v7M174 371v7M174 374v7M174 362v7M174 365v7M174 372v7M174 377v7M174 376v7M174 374v7M174 378v7M174 346v7M174 350v7M174 353v7M174 360v7M174 365v7M174 370v7M174 366v7M174 373v7M174 373v7M175 341v7M175 344v7M175 348v7M175 355v7M175 353v7M175 356v7M176 341v7M176 345v7M176 348v7M176 352v7M176 365v7M176 368v7M176 375v7M176 380v7M176 409v7M177 348v7M177 353v7M178 326v7M178 329v7M178 335v7M178 341v7M178 336v7M178 340v7M178 343v7M178 353v7M178 358v7M178 363v7M178 356v7M178 353v7M178 378v7M178 411v7M178 408v7M179 332v7M179 369v7M179 373v7M179 368v7M179 373v7M180 321v7M180 354v7M180 370v7M180 409v7M180 411v7M181 412v7M182 339v7M182 343v7M182 348v7M182 352v7M182 354v7M182 361v7M182 361v7M182 408v7M182 408v7M183 352v7M183 357v7M183 361v7M183 364v7M183 368v7M183 409v7M184 345v7M184 346v7M184 348v7M184 351v7M184 355v7M184 356v7M184 360v7M184 362v7M184 355v7M184 360v7M184 364v7M184 369v7M184 408v7M184 408v7M184 412v7M185 338v7M185 344v7M185 357v7M185 361v7M185 366v7M185 408v7M185 411v7M185 408v7M186 336v7M186 340v7M186 346v7M186 349v7M186 350v7M187 304v7M187 368v7M187 410v7M188 310v7M188 314v7M188 332v7M188 336v7M188 341v7M188 339v7M188 343v7M188 349v7M188 351v7M188 360v7M188 359v7M188 362v7M188 367v7M188 352v7M188 355v7M188 358v7M188 361v7M189 304v7M189 352v7M189 356v7M189 363v7M189 367v7M190 362v7M190 367v7M190 369v7M190 410v7M191 306v7M191 310v7M191 307v7M191 312v7M191 314v7M191 316v7M191 359v7M192 296v7M192 304v7M192 301v7M192 331v7M192 336v7M192 340v7M193 311v7M193 315v7M193 320v7M193 321v7M193 329v7M193 335v7M194 338v7M194 343v7M194 345v7M194 348v7M194 358v7M194 362v7M194 363v7M194 361v7M194 360v7M195 369v7M195 372v7M196 320v7M196 324v7M196 330v7M196 330v7M196 342v7M196 341v7M196 349v7M196 347v7M196 334v7M196 338v7M196 354v7M196 367v7M196 371v7M196 361v7M196 366v7M196 371v7M197 410v7M197 408v7M198 331v7M198 342v7M198 346v7M198 345v7M198 348v7M199 351v7M199 354v7M199 360v7M199 364v7M199 366v7M199 369v7M199 366v7M199 371v7M199 409v7M200 410v7M200 412v7M200 408v7M201 335v7M201 341v7M201 345v7M201 350v7M201 355v7M201 351v7M201 354v7M201 361v7M201 411v7M202 317v7M202 320v7M202 324v7M202 329v7M202 357v7M202 362v7M202 364v7M202 345v7M202 350v7M202 354v7M202 356v7M202 359v7M202 366v7M202 369v7M202 409v7M203 327v7M203 408v7M203 411v7M204 410v7M204 412v7M205 362v7M205 366v7M205 408v7M205 410v7M205 410v7M206 357v7M206 362v7M206 364v7M206 409v7M207 366v7M209 353v7M209 356v7M209 355v7M209 358v7M209 362v7M209 365v7M209 364v7M209 410v7M210 306v7M210 311v7M210 316v7M210 352v7M210 355v7M210 361v7M210 365v7M210 411v7M211 319v7M211 325v7M211 330v7M211 335v7M211 340v7M211 337v7M211 341v7M211 347v7M211 349v7M211 352v7M211 357v7M211 359v7M211 361v7M211 368v7M212 347v7M212 352v7M212 355v7M212 363v7M212 368v7M212 368v7M213 335v7M213 336v7M213 341v7M213 334v7M213 339v7M213 341v7M213 344v7M213 353v7M213 408v7M214 328v7M214 333v7M214 363v7M214 410v7M215 298v7M215 344v7M215 411v7M216 326v7M216 330v7M216 335v7M216 334v7M216 337v7M216 343v7M216 357v7M216 363v7M216 368v7M216 368v7M216 366v7M216 411v7M217 345v7M217 348v7M217 354v7M217 354v7M217 364v7M217 411v7M218 335v7M218 339v7M218 327v7M218 332v7M218 338v7M218 338v7M218 348v7M218 350v7M218 341v7M218 344v7M218 349v7M218 350v7M218 356v7M219 363v7M219 411v7M220 357v7M220 358v7M220 362v7M220 366v7M220 408v7M220 412v7M220 412v7M222 356v7M222 361v7M222 362v7M222 367v7M222 408v7M223 331v7M223 334v7M223 340v7M223 344v7M223 344v7M223 357v7M223 367v7M223 357v7M223 360v7M224 343v7M224 346v7M224 352v7M224 358v7M224 360v7M224 361v7M224 347v7M224 351v7M224 357v7M224 358v7M224 365v7M224 362v7M224 361v7M224 366v7M225 353v7M225 358v7M225 361v7M226 341v7M226 346v7M226 348v7M226 352v7M226 356v7M226 361v7M226 366v7M227 305v7M227 331v7M227 335v7M227 342v7M227 344v7M227 346v7M227 359v7M227 342v7M227 346v7M227 351v7M227 357v7M227 360v7M228 359v7M228 359v7M228 345v7M228 350v7M228 353v7M228 355v7M228 360v7M228 365v7M228 364v7M228 360v7M228 365v7M228 411v7M229 357v7M229 362v7M229 409v7M230 309v7M230 311v7M230 317v7M230 339v7M230 344v7M230 348v7M230 352v7M230 353v7M230 355v7M230 358v7M231 325v7M231 351v7M231 356v7M231 358v7M231 410v7M231 409v7M232 340v7M232 344v7M232 348v7M233 357v7M233 361v7M234 315v7M234 318v7M234 321v7M234 328v7M234 333v7M234 333v7M234 339v7M234 343v7M234 341v7M234 357v7M234 335v7M234 338v7M234 347v7M234 351v7M234 357v7M234 361v7M235 357v7M235 362v7M235 357v7M235 362v7M236 346v7M236 350v7M236 354v7M236 356v7M237 304v7M237 303v7M237 319v7M237 322v7M237 326v7M237 329v7M237 336v7M237 339v7M237 347v7M237 349v7M237 361v7M237 354v7M237 361v7M238 337v7M238 340v7M238 346v7M238 347v7M238 353v7M238 411v7M239 345v7M239 408v7M239 409v7M239 409v7M240 315v7M240 321v7M240 324v7M240 327v7M240 330v7M240 331v7M240 340v7M240 345v7M240 351v7M240 355v7M240 356v7M240 410v7M240 411v7M240 409v7M241 305v7M241 308v7M241 312v7M241 322v7M241 324v7M241 333v7M241 335v7M241 335v7M241 324v7M241 338v7M241 343v7M241 345v7M241 349v7M241 352v7M241 355v7M241 358v7M241 412v7M242 354v7M243 346v7M244 327v7M244 332v7M244 335v7M244 340v7M244 342v7M244 343v7M244 346v7M244 352v7M244 355v7M245 346v7M245 350v7M246 321v7M246 325v7M246 330v7M246 337v7M246 339v7M246 344v7M246 332v7M246 335v7M246 339v7M246 333v7M246 336v7M246 341v7M246 411v7M246 410v7M246 412v7M247 310v7M247 313v7M247 317v7M247 319v7M247 329v7M247 341v7M247 343v7M247 348v7M247 350v7M247 354v7M247 355v7M247 412v7M247 409v7M249 310v7M249 313v7M249 318v7M249 321v7M249 331v7M250 339v7M250 412v7M251 335v7M251 339v7M251 343v7M251 327v7M251 332v7M251 338v7M251 341v7M251 344v7M251 353v7M251 347v7M251 340v7M251 344v7M251 344v7M251 348v7M251 353v7M251 332v7M251 336v7M251 339v7M251 345v7M251 354v7M251 350v7M251 352v7M251 356v7M251 352v7M251 354v7M251 411v7M251 411v7M252 312v7M252 317v7M252 321v7M252 322v7M252 328v7M252 328v7M252 341v7M252 334v7M252 337v7M252 340v7M252 345v7M252 350v7M252 341v7M252 344v7M252 350v7M252 352v7M252 409v7M253 327v7M253 322v7M253 325v7M253 330v7M253 331v7M253 336v7M253 334v7M253 342v7M253 354v7M253 363v7M253 366v7M253 412v7M254 319v7M254 322v7M254 328v7M254 334v7M254 340v7M254 335v7M254 361v7M254 365v7M254 367v7M254 364v7M254 369v7M255 356v7M255 361v7M255 358v7M255 408v7M255 412v7M256 320v7M256 323v7M256 327v7M256 332v7M256 335v7M257 373v7M257 364v7M257 369v7M257 371v7M257 378v7M257 409v7M258 349v7M258 352v7M258 355v7M258 358v7M258 363v7M258 376v7M259 337v7M259 373v7M259 376v7M260 360v7M260 363v7M261 365v7M261 370v7M261 373v7M261 378v7M262 368v7M262 374v7M263 297v7M263 298v7M263 306v7M263 302v7M263 320v7M263 318v7M263 325v7M263 312v7M263 340v7M263 321v7M263 334v7M263 328v7M263 343v7M263 365v7M263 333v7M263 337v7M263 344v7M263 348v7M263 376v7M264 367v7M264 372v7M264 374v7M265 362v7M265 365v7M265 368v7M265 375v7M265 375v7M265 377v7M265 408v7M265 412v7M266 332v7M266 336v7M266 340v7M266 363v7M267 353v7M267 358v7M268 362v7M269 359v7M270 326v7M270 329v7M270 327v7M270 330v7M270 346v7M270 350v7M270 339v7M270 342v7M270 348v7M270 355v7M270 358v7M271 310v7M271 313v7M271 318v7M271 321v7M271 330v7M271 335v7M271 331v7M271 346v7M271 350v7M271 353v7M271 353v7M271 357v7M271 361v7M271 361v7M272 329v7M272 334v7M272 336v7M272 409v7M274 342v7M274 346v7M274 353v7M274 353v7M274 356v7M274 358v7M274 353v7M274 358v7M274 359v7M275 331v7M275 336v7M275 351v7M275 356v7M275 360v7M275 410v7M275 410v7M277 326v7M277 330v7M277 340v7M277 344v7M277 350v7M277 350v7M277 360v7M277 361v7M277 352v7M277 355v7M277 360v7M277 411v7M278 330v7M278 335v7M278 336v7M278 341v7M278 345v7M278 346v7M278 351v7M278 354v7M279 332v7M279 336v7M279 339v7M279 346v7M280 335v7M280 340v7M280 342v7M280 348v7M280 339v7M280 342v7M280 349v7M280 351v7M280 358v7M280 361v7M281 316v7M281 319v7M281 325v7M281 331v7M281 338v7M281 340v7M281 338v7M281 411v7M281 409v7M282 303v7M282 309v7M282 310v7M282 315v7M282 320v7M282 320v7M282 320v7M282 324v7M282 329v7M282 336v7M282 333v7M282 341v7M282 342v7M282 344v7M282 350v7M282 345v7M282 350v7M282 353v7M282 359v7M282 351v7M282 355v7M282 360v7M283 352v7M283 356v7M283 412v7M284 355v7M284 358v7M285 321v7M285 336v7M285 341v7M285 344v7M285 346v7M285 350v7M285 326v7M285 329v7M285 337v7M285 340v7M285 345v7M285 342v7M285 348v7M285 356v7M285 350v7M286 326v7M286 331v7M287 353v7M288 321v7M288 321v7M288 329v7M288 334v7M289 339v7M289 347v7M290 347v7M290 410v7M291 301v7M291 302v7M291 306v7M291 309v7M291 315v7M291 316v7M291 322v7M291 328v7M291 327v7M291 343v7M291 341v7M291 350v7M291 330v7M291 346v7M291 350v7M291 353v7M291 409v7M292 304v7M292 325v7M292 329v7M292 333v7M292 338v7M292 342v7M292 345v7M292 335v7M292 339v7M292 346v7M292 351v7M292 409v7M293 325v7M293 330v7M293 333v7M293 339v7M293 342v7M293 347v7M293 351v7M293 349v7M293 408v7M294 337v7M294 340v7M294 344v7M294 347v7M294 410v7M295 331v7M295 335v7M295 337v7M295 343v7M295 346v7M295 326v7M295 330v7M295 337v7M295 337v7M295 346v7M295 350v7M295 348v7M296 301v7M296 305v7M296 311v7M296 316v7M296 322v7M296 322v7M296 328v7M296 332v7M296 336v7M296 348v7M296 336v7M296 341v7M296 322v7M296 325v7M296 331v7M296 338v7M296 340v7M296 344v7M296 351v7M296 335v7M296 339v7M296 343v7M296 331v7M296 335v7M296 338v7M296 343v7M296 351v7M296 352v7M296 349v7M296 408v7M296 408v7M296 410v7M297 306v7M297 310v7M297 314v7M297 333v7M297 347v7M297 409v7M297 412v7M298 310v7M298 313v7M298 320v7M298 324v7M299 343v7M299 354v7M299 357v7M299 408v7M300 346v7M300 353v7M300 356v7M300 358v7M301 296v7M301 307v7M301 410v7M302 320v7M302 324v7M302 354v7M302 359v7M303 319v7M303 323v7M303 330v7M303 331v7M303 319v7M303 322v7M303 328v7M303 328v7M303 332v7M303 347v7M303 352v7M303 354v7M303 347v7M303 351v7M303 353v7M303 361v7M303 356v7M303 361v7M304 313v7M304 323v7M304 326v7M304 330v7M304 337v7M304 339v7M304 339v7M305 325v7M305 359v7M305 363v7M307 311v7M307 314v7M307 318v7M307 340v7M307 363v7M307 355v7M307 360v7M307 365v7M307 369v7M307 367v7M307 409v7M307 411v7M308 356v7M308 360v7M308 361v7M308 364v7M308 368v7M308 365v7M308 368v7M308 408v7M309 367v7M309 370v7M310 359v7M310 355v7M310 359v7M310 361v7M310 368v7M310 370v7M310 409v7M311 338v7M311 341v7M311 346v7M311 350v7M311 353v7M311 359v7M311 359v7M311 359v7M311 363v7M312 363v7M312 368v7M312 361v7M312 366v7M312 370v7M312 372v7M312 412v7M313 336v7M313 351v7M313 354v7M313 357v7M313 365v7M313 370v7M313 375v7M314 408v7M314 410v7M315 360v7M315 364v7M315 367v7M315 373v7M315 381v7M315 380v7M315 380v7M316 366v7M316 370v7M317 343v7M317 347v7M317 351v7M317 367v7M317 370v7M317 375v7M317 408v7M318 380v7M318 384v7M318 369v7M318 375v7M318 376v7M318 379v7M319 374v7M319 379v7M319 381v7M319 376v7M319 380v7M319 359v7M319 364v7M319 367v7M319 374v7M319 372v7M319 375v7M319 383v7M319 382v7M321 368v7M321 372v7M321 374v7M321 383v7M321 380v7M321 410v7M321 410v7M322 356v7M322 361v7M322 366v7M322 361v7M322 365v7M322 369v7M322 371v7M322 379v7M322 383v7M322 382v7M322 411v7M323 339v7M323 342v7M323 373v7M323 377v7M323 381v7M324 410v7M324 412v7M324 409v7M325 408v7M326 408v7M327 375v7M327 379v7M327 373v7M327 377v7M327 381v7M327 378v7M327 381v7M327 408v7M327 411v7M327 412v7M327 411v7M328 326v7M328 330v7M328 332v7M328 371v7M328 372v7M328 374v7M329 308v7M329 313v7M329 315v7M329 322v7M329 324v7M329 326v7M329 331v7M329 334v7M329 332v7M329 353v7M329 349v7M329 354v7M329 349v7M329 370v7M329 372v7M329 374v7M329 372v7M329 365v7M329 366v7M329 408v7M330 323v7M330 327v7M330 332v7M330 333v7M330 341v7M330 347v7M330 352v7M330 351v7M330 347v7M330 366v7M330 371v7M330 365v7M330 369v7M330 376v7M330 374v7M330 378v7M331 409v7M331 411v7M332 357v7M332 361v7M332 364v7M332 362v7M332 373v7M333 373v7M333 408v7M334 375v7M335 374v7M335 378v7M335 369v7M335 374v7M335 376v7M335 410v7M335 412v7M335 410v7M336 375v7M336 374v7M336 408v7M336 408v7M337 378v7M338 411v7M339 337v7M339 350v7M339 363v7M339 368v7M339 369v7M339 377v7M340 364v7M340 368v7M340 371v7M340 409v7M340 408v7M341 369v7M341 368v7M341 372v7M341 376v7M342 351v7M342 356v7M342 358v7M342 363v7M342 371v7M342 375v7M342 374v7M342 372v7M342 377v7M342 376v7M342 409v7M343 357v7M343 361v7M343 367v7M343 370v7M343 372v7M343 354v7M343 358v7M343 361v7M343 367v7M343 373v7M343 378v7M343 375v7M344 326v7M344 331v7M344 343v7M344 348v7M344 351v7M344 358v7M344 355v7M344 362v7M344 367v7M344 373v7M344 378v7M345 326v7M345 331v7M345 372v7M345 376v7M345 374v7M345 378v7M345 410v7M346 362v7M346 366v7M346 359v7M346 364v7M346 369v7M346 373v7M346 368v7M346 372v7M346 409v7M348 366v7M348 371v7M348 373v7M348 378v7M348 410v7M349 360v7M349 363v7M349 366v7M349 372v7M349 378v7M349 375v7M349 409v7M350 329v7M350 351v7M350 354v7M350 357v7M350 365v7M350 364v7M350 368v7M350 375v7M350 369v7M350 372v7M350 379v7M350 379v7M350 376v7M350 379v7M351 329v7M351 334v7M351 336v7M351 341v7M351 341v7M351 351v7M351 358v7M351 369v7M351 373v7M352 410v7M352 408v7M353 356v7M353 360v7M353 363v7M353 369v7M353 373v7M354 366v7M354 369v7M354 374v7M354 381v7M354 371v7M354 374v7M354 380v7M354 381v7M354 412v7M355 331v7M355 335v7M355 341v7M356 359v7M356 362v7M356 368v7M356 365v7M356 369v7M356 373v7M356 380v7M356 380v7M356 377v7M356 381v7M356 381v7M356 380v7M356 410v7M357 362v7M357 366v7M357 369v7M357 371v7M357 382v7M357 347v7M357 351v7M357 354v7M357 358v7M357 360v7M357 373v7M357 371v7M357 370v7M357 374v7M357 378v7M357 382v7M357 373v7M357 378v7M357 382v7M357 411v7M357 408v7M357 412v7M357 368v7M357 372v7M357 374v7M357 379v7M357 381v7M357 410v7M358 336v7M358 340v7M358 350v7M358 355v7M358 358v7M358 361v7M358 363v7M358 373v7M358 375v7M358 376v7M358 380v7M358 379v7M358 365v7M358 369v7M358 376v7M358 380v7M359 367v7M359 372v7M359 376v7M360 380v7M360 382v7M360 381v7M361 377v7M361 381v7M361 350v7M361 356v7M361 357v7M361 365v7M361 368v7M361 377v7M361 374v7M361 381v7M361 379v7M361 382v7M362 410v7M363 379v7M363 384v7M364 381v7M364 385v7M364 383v7M364 386v7M364 366v7M364 370v7M364 375v7M364 377v7M364 385v7M364 385v7M364 409v7M365 367v7M365 372v7M365 375v7M365 378v7M365 379v7M365 386v7M365 385v7M365 412v7M365 409v7M366 378v7M366 382v7M366 384v7M366 380v7M366 384v7M366 372v7M366 377v7M366 380v7M366 384v7M366 412v7M366 410v7M367 337v7M367 346v7M367 379v7M367 383v7M367 385v7M368 374v7M368 381v7M369 382v7M369 411v7M370 380v7M370 383v7M370 410v7M371 330v7M371 334v7M371 339v7M371 385v7M371 377v7M371 382v7M371 386v7M372 334v7M372 337v7M372 343v7M372 378v7M372 383v7M372 379v7M372 382v7M372 411v7M373 321v7M373 325v7M373 330v7M373 332v7M373 336v7M373 344v7M373 312v7M373 316v7M373 321v7M373 326v7M373 327v7M373 335v7M373 337v7M373 339v7M373 350v7M373 341v7M373 352v7M373 354v7M373 358v7M373 412v7M374 344v7M374 344v7M374 347v7M374 353v7M374 358v7M374 361v7M374 368v7M374 367v7M374 357v7M374 361v7M374 364v7M374 411v7M374 408v7M375 313v7M375 352v7M375 369v7M375 374v7M375 410v7M375 408v7M375 409v7M376 350v7M376 353v7M377 303v7M377 329v7M377 320v7M377 324v7M377 327v7M377 335v7M377 337v7M377 340v7M377 351v7M377 342v7M377 354v7M377 339v7M377 344v7M377 347v7M377 351v7M377 359v7M377 357v7M377 343v7M377 348v7M377 350v7M377 355v7M377 358v7M377 367v7M377 355v7M377 362v7M377 367v7M377 366v7M377 410v7M377 410v7M377 410v7M378 345v7M378 348v7M378 355v7M378 359v7M378 346v7M378 351v7M378 354v7M378 357v7M378 359v7M378 364v7M378 358v7M378 363v7M378 365v7M378 408v7M378 411v7M379 309v7M379 308v7M379 304v7M379 308v7M379 331v7M379 331v7M379 317v7M379 354v7M379 356v7M380 338v7M380 341v7M380 347v7M380 354v7M380 335v7M380 338v7M380 343v7M380 348v7M380 349v7M380 354v7M380 358v7M380 344v7M380 349v7M380 352v7M380 354v7M380 356v7M380 339v7M380 343v7M380 345v7M380 354v7M380 358v7M380 410v7M381 343v7M381 347v7M381 353v7M381 356v7M382 352v7M382 356v7M383 331v7M383 334v7M383 340v7M383 337v7M383 338v7M383 344v7M383 346v7M383 354v7M383 355v7M383 409v7M383 409v7M383 410v7M385 327v7M385 332v7M385 351v7M386 329v7M386 333v7M386 337v7M386 340v7M386 349v7M386 346v7M386 348v7M386 352v7M386 408v7M387 327v7M387 331v7M387 333v7M387 336v7M387 340v7M387 333v7M387 336v7M387 343v7M387 352v7M387 355v7M387 341v7M387 345v7M387 352v7M387 351v7M387 409v7M388 319v7M388 323v7M388 327v7M388 329v7M388 337v7M388 343v7M388 335v7M388 339v7M388 344v7M388 349v7M389 329v7M389 349v7M389 353v7M389 355v7M389 408v7M389 408v7M390 328v7M390 331v7M390 334v7M390 341v7M390 335v7M390 339v7M390 342v7M390 352v7M390 352v7M390 351v7M390 411v7M391 351v7M391 358v7M391 410v7M392 321v7M392 326v7M392 324v7M392 328v7M392 333v7M392 338v7M392 352v7M392 365v7M393 346v7M393 349v7M393 355v7M393 359v7M393 361v7M393 362v7M393 367v7M393 367v7M393 409v7M394 372v7M395 369v7M395 373v7M395 410v7M396 347v7M396 350v7M396 354v7M396 363v7M396 368v7M396 351v7M396 357v7M396 360v7M396 363v7M396 369v7M396 374v7M396 377v7M396 376v7M396 373v7M396 377v7M396 412v7M397 326v7M397 329v7M397 342v7M397 346v7M397 353v7M397 356v7M397 361v7M397 362v7M397 373v7M397 356v7M397 345v7M397 350v7M397 351v7M397 355v7M397 358v7M397 372v7M397 364v7M397 374v7M397 378v7M397 381v7M397 360v7M397 363v7M397 368v7M397 369v7M397 373v7M398 358v7M398 361v7M398 367v7M398 358v7M398 364v7M398 365v7M398 370v7M398 380v7M398 380v7M398 383v7M399 363v7M399 368v7M399 374v7M399 373v7M399 379v7M399 383v7M399 378v7M399 386v7M399 390v7M399 409v7M399 409v7M400 375v7M400 376v7M400 380v7M400 386v7M401 357v7M401 361v7M401 364v7M401 373v7M401 376v7M401 382v7M401 382v7M401 370v7M402 400v7M403 366v7M404 385v7M404 394v7M406 395v7M406 398v7M406 403v7M406 408v7M407 397v7M407 401v7M407 404v7M407 394v7M407 398v7M407 404v7M407 402v7M407 408v7M408 374v7M408 378v7M408 384v7M408 385v7M408 393v7M408 392v7M408 401v7M408 400v7M408 404v7M409 394v7M409 397v7M409 401v7M409 405v7M409 410v7M410 398v7M410 390v7M410 395v7M410 399v7M410 403v7M410 409v7M411 387v7M411 390v7M411 394v7M411 400v7M411 403v7M411 412v7M412 379v7M412 383v7M412 389v7M412 392v7M412 396v7M412 402v7M412 400v7M413 388v7M413 392v7M413 390v7M413 395v7M413 396v7M413 404v7M413 405v7M413 409v7M414 384v7M414 389v7M414 393v7M414 394v7M414 397v7M414 401v7M414 389v7M414 393v7M414 397v7M414 405v7M414 405v7M414 411v7M415 386v7M415 390v7M415 393v7M415 399v7M415 402v7M415 393v7M415 398v7M415 399v7M415 403v7M416 365v7M416 369v7M416 375v7M416 375v7M416 383v7M416 385v7M416 390v7M416 392v7M416 391v7M416 385v7M416 395v7M417 377v7M417 380v7M417 386v7M417 389v7M417 395v7M417 394v7M417 374v7M417 379v7M417 380v7M417 389v7M417 389v7M417 400v7M417 401v7M417 397v7M417 403v7M417 408v7M417 408v7M418 377v7M418 381v7M418 386v7M418 388v7M418 392v7M418 401v7M418 409v7M418 401v7M418 402v7M418 392v7M418 397v7M418 400v7M418 408v7M418 409v7M419 383v7M419 386v7M419 401v7M419 404v7M419 409v7M420 380v7M420 384v7M420 388v7M420 389v7M420 399v7M420 402v7M420 409v7M422 371v7M422 376v7M422 378v7M422 387v7M422 389v7M422 390v7M422 399v7M422 400v7M423 411v7M424 379v7M424 382v7M424 388v7M424 388v7M424 391v7M424 398v7M424 400v7M424 408v7M424 389v7M424 394v7M424 399v7M424 399v7M424 408v7M425 398v7M425 402v7M425 392v7M425 396v7M425 402v7M426 376v7M426 381v7M426 384v7M426 376v7M426 380v7M426 383v7M426 385v7M426 374v7M426 378v7M426 384v7M426 385v7M426 395v7M426 385v7M426 389v7M426 394v7M426 398v7M426 408v7M428 372v7M428 377v7M429 368v7M429 372v7M429 375v7M429 377v7M429 381v7M429 385v7M431 382v7M431 386v7M431 370v7M431 373v7M431 378v7M431 383v7M431 389v7M431 411v7M433 359v7M433 361v7M433 363v7M433 370v7M433 368v7M434 355v7M434 360v7M434 363v7M434 365v7M434 368v7M434 375v7M434 365v7M434 369v7M434 373v7M434 377v7M434 377v7M434 381v7M434 375v7M434 380v7M434 381v7M435 377v7M436 370v7M436 374v7M436 369v7M436 374v7M436 377v7M437 368v7M437 371v7M437 410v7M437 409v7M438 352v7M439 408v7M439 410v7M440 360v7M440 373v7M441 371v7M442 353v7M442 329v7M442 333v7M442 335v7M442 338v7M442 349v7M442 345v7M442 360v7M442 355v7M442 366v7M442 361v7M442 362v7M442 352v7M442 356v7M442 358v7M442 364v7M442 360v7M442 358v7M442 362v7M442 369v7M442 366v7M442 354v7M442 360v7M442 364v7M442 368v7M442 368v7M442 352v7M442 356v7M442 361v7M442 364v7M442 369v7M442 410v7M442 411v7M443 328v7M443 326v7M443 330v7M443 351v7M443 412v7M444 366v7M444 357v7M444 361v7M444 365v7M444 410v7M445 411v7M446 343v7M446 347v7M446 350v7M446 359v7M446 357v7M446 349v7M446 354v7M446 358v7M446 358v7M446 353v7M446 357v7M447 331v7M447 329v7M447 344v7M447 337v7M447 346v7M447 412v7M448 333v7M448 336v7M448 340v7M448 348v7M448 352v7M448 344v7M448 339v7M448 344v7M448 347v7M448 355v7M448 357v7M448 357v7M448 359v7M448 360v7M448 409v7M448 408v7M448 411v7M448 409v7M449 332v7M449 336v7M449 340v7M449 347v7M449 345v7M449 338v7M449 341v7M449 345v7M449 349v7M450 332v7M450 335v7M450 339v7M450 344v7M450 342v7M450 347v7M450 355v7M450 359v7M450 361v7M450 410v7M451 369v7M451 372v7M452 354v7M452 359v7M452 362v7M452 366v7M452 369v7M452 411v7M453 345v7M453 348v7M453 354v7M453 360v7M453 359v7M453 347v7M453 352v7M453 355v7M453 359v7M453 362v7M453 370v7M453 360v7M453 353v7M453 358v7M453 360v7M453 368v7M453 373v7M453 374v7M453 383v7M454 327v7M454 331v7M454 336v7M454 341v7M454 347v7M454 342v7M454 355v7M454 358v7M454 360v7M454 361v7M454 374v7M454 366v7M454 369v7M454 374v7M454 378v7M454 383v7M454 412v7M454 412v7M455 381v7M455 385v7M455 383v7M455 411v7M456 376v7M456 379v7M456 384v7M456 386v7M456 411v7M457 375v7M458 347v7M458 384v7M459 370v7M459 373v7M459 381v7M459 385v7M459 386v7M459 409v7M460 408v7M461 360v7M461 363v7M461 384v7M461 382v7M461 409v7M462 370v7M462 375v7M462 377v7M462 382v7M463 359v7M463 363v7M463 367v7M463 371v7M463 375v7M463 375v7M463 381v7M463 408v7M464 351v7M464 355v7M464 410v7M464 410v7M464 411v7M465 354v7M465 362v7M465 363v7M465 375v7M465 374v7M465 377v7M465 363v7M465 369v7M465 370v7M466 364v7M466 368v7M466 369v7M466 372v7M466 410v7M466 411v7M467 359v7M467 361v7M467 360v7M467 412v7M467 408v7M467 412v7M468 353v7M468 356v7M468 359v7M468 363v7M469 362v7M469 367v7M469 361v7M469 365v7M470 355v7M470 367v7M470 410v7M472 351v7M472 355v7M472 361v7M472 366v7M472 357v7M472 362v7M472 366v7M472 367v7M472 356v7M472 361v7M472 363v7M472 365v7M472 363v7M472 367v7M472 412v7M473 410v7M475 349v7M475 354v7M475 360v7M475 365v7M475 409v7M476 360v7M476 354v7M476 356v7M476 361v7M476 364v7M476 365v7M477 365v7M477 357v7M477 361v7M477 366v7M477 367v7M477 408v7M477 410v7M478 347v7M478 354v7M478 360v7M478 365v7M478 369v7M478 348v7M478 360v7M478 365v7M478 366v7M478 369v7M478 373v7M479 356v7M479 365v7M480 366v7M480 371v7M480 373v7M480 377v7M480 372v7M480 377v7M480 380v7M480 377v7M480 380v7M480 410v7M480 375v7M480 379v7M480 408v7M480 409v7M480 409v7M480 410v7M482 369v7M482 374v7M482 377v7M482 382v7M482 387v7M483 381v7M483 381v7M483 385v7M483 391v7M483 377v7M483 382v7M483 387v7M483 391v7M483 410v7M484 371v7M484 376v7M484 381v7M484 384v7M484 409v7M485 382v7M485 385v7M485 388v7M486 347v7M486 353v7M486 357v7M486 360v7M486 368v7M486 374v7M486 370v7M486 376v7M486 379v7M486 375v7M486 391v7M486 389v7M486 408v7M486 382v7M486 387v7M487 353v7M487 358v7M487 361v7M487 368v7M487 366v7M487 369v7M487 379v7M487 390v7M487 347v7M487 353v7M487 355v7M487 369v7M487 363v7M487 373v7M487 376v7M487 377v7M487 390v7M487 387v7M487 412v7M488 391v7M488 391v7M488 412v7M488 411v7M488 389v7M489 373v7M489 387v7M489 388v7M489 390v7M490 380v7M490 389v7M490 390v7M490 360v7M490 365v7M490 366v7M490 373v7M490 378v7M490 376v7M490 383v7M490 388v7M491 377v7M491 382v7M491 385v7M491 389v7M491 391v7M492 386v7M493 370v7M493 373v7M495 382v7M495 387v7M495 388v7M496 369v7M496 373v7M497 350v7M497 354v7M497 354v7M497 364v7M497 375v7M497 378v7M497 381v7M498 357v7M498 361v7M498 375v7M498 380v7M499 351v7M499 356v7M499 357v7M499 361v7M499 365v7M499 369v7M499 374v7M499 372v7M499 376v7M499 379v7M499 410v7M499 410v7M500 410v7M500 408v7M500 412v7M501 369v7M501 373v7M501 363v7M501 367v7M501 372v7M501 412v7M501 408v7M501 411v7M502 353v7M502 358v7M502 359v7M502 363v7M502 371v7M502 372v7M502 409v7M502 408v7M502 409v7M502 409v7M502 412v7M503 357v7M503 360v7M503 367v7M503 372v7M503 409v7M504 368v7M504 372v7M504 366v7M504 369v7M504 412v7M504 412v7M505 369v7M505 372v7M505 376v7M505 376v7M505 410v7M505 412v7M506 358v7M506 362v7M506 365v7M506 370v7M506 375v7M506 409v7M506 411v7M507 351v7M507 354v7M507 356v7M507 357v7M507 375v7M507 376v7M507 377v7M507 376v7M507 371v7M507 381v7M507 362v7M507 367v7M507 373v7M507 377v7M507 376v7M507 377v7M507 409v7M507 411v7M507 412v7M508 359v7M508 363v7M508 353v7M508 357v7M508 364v7M508 369v7M508 374v7M508 378v7M508 382v7M508 375v7M509 350v7M509 353v7M509 359v7M509 372v7M509 377v7M509 385v7M509 376v7M509 381v7M509 386v7M509 409v7M510 368v7M510 371v7M511 381v7M511 384v7M511 387v7M512 362v7M512 365v7M512 369v7M512 378v7M512 383v7M512 388v7M513 380v7M513 383v7M513 386v7M514 371v7M514 374v7M514 380v7M514 376v7M514 381v7M514 383v7M515 359v7M515 364v7M515 367v7M515 372v7M515 373v7M515 386v7M515 382v7M515 384v7M515 388v7M516 375v7M516 379v7M516 382v7M516 386v7M517 375v7M517 379v7M517 384v7M517 412v7M518 362v7M518 367v7M520 365v7M520 368v7M520 376v7M520 385v7M520 388v7M520 388v7M520 409v7M520 411v7M520 411v7M520 411v7M520 412v7M520 408v7M521 376v7M521 356v7M521 360v7M521 363v7M521 367v7M521 377v7M521 381v7M521 388v7M521 379v7M521 410v7M521 387v7M521 410v7M524 371v7M524 375v7M524 381v7M524 382v7M525 372v7M526 354v7M526 358v7M526 367v7M526 372v7M526 376v7M526 373v7M526 358v7M526 362v7M526 365v7M526 369v7M526 370v7M526 411v7M527 366v7M527 370v7M527 411v7M528 318v7M528 324v7M528 352v7M528 355v7M528 360v7M528 364v7M528 370v7M528 409v7M528 411v7M529 338v7M529 341v7M529 345v7M529 362v7M529 366v7M530 340v7M530 345v7M530 350v7M530 356v7M530 361v7M530 358v7M530 360v7M530 410v7M531 362v7M531 353v7M531 357v7M531 359v7M531 364v7M531 408v7M532 324v7M532 329v7M532 331v7M532 348v7M532 348v7M532 356v7M532 353v7M532 356v7M532 359v7M532 361v7M532 412v7M533 347v7M533 350v7M533 354v7M533 352v7M533 357v7M534 333v7M534 336v7M534 343v7M534 350v7M536 330v7M536 335v7M536 338v7M536 341v7M536 344v7M536 350v7M536 352v7M536 408v7M537 346v7M537 349v7M537 354v7M537 411v7M538 348v7M538 351v7M538 408v7M538 412v7M538 412v7M540 330v7M540 333v7M540 336v7M540 343v7M540 351v7M540 342v7M540 347v7M540 348v7M540 352v7M540 354v7M541 333v7M541 337v7M541 341v7M541 349v7M541 353v7M542 337v7M542 341v7M542 344v7M542 351v7M542 355v7M542 350v7M542 342v7M542 347v7M542 348v7M542 355v7M542 354v7M542 345v7M542 350v7M542 354v7M542 409v7M542 412v7M543 348v7M543 352v7M543 349v7M543 352v7M543 353v7M543 350v7M543 408v7M543 412v7M543 410v7M544 314v7M544 410v7M545 340v7M546 343v7M546 348v7M546 353v7M546 412v7M546 412v7M547 410v7M548 344v7M548 343v7M548 346v7M548 353v7M548 334v7M548 340v7M548 340v7M548 350v7M548 353v7M548 354v7M548 353v7M548 409v7M548 408v7M549 354v7M549 410v7M550 409v7M550 408v7M550 412v7M551 346v7M551 350v7M551 353v7M551 341v7M551 345v7M551 351v7M551 351v7M551 408v7M553 322v7M553 324v7M553 330v7M553 332v7M553 336v7M553 350v7M553 341v7M553 348v7M553 350v7M553 354v7M553 412v7M554 325v7M554 319v7M554 322v7M554 325v7M554 348v7M554 322v7M554 336v7M554 340v7M554 344v7M554 344v7M554 348v7M554 353v7M554 348v7M554 351v7M554 354v7M554 355v7M554 355v7M554 410v7M554 408v7M554 409v7M555 346v7M555 408v7M555 412v7M556 318v7M556 333v7M556 331v7M556 335v7M556 337v7M556 340v7M556 345v7M556 346v7M556 349v7M556 411v7M557 323v7M557 328v7M557 334v7M557 335v7M557 336v7M557 349v7M557 349v7M557 357v7M557 346v7M557 350v7M557 338v7M557 343v7M557 348v7M557 347v7M557 356v7M557 356v7M557 410v7M557 412v7M558 329v7M558 334v7M558 337v7M558 341v7M558 349v7M558 349v7M558 341v7M558 346v7M558 348v7M558 354v7M558 411v7M558 409v7M559 359v7M559 364v7M560 347v7M560 350v7M560 354v7M560 358v7M560 367v7M560 409v7M561 336v7M561 341v7M561 353v7M561 357v7M561 359v7M561 367v7M561 368v7M561 367v7M561 371v7M562 334v7M562 338v7M562 342v7M562 349v7M563 333v7M563 341v7M563 344v7M563 350v7M563 352v7M563 357v7M563 409v7M564 354v7M564 357v7M564 362v7M564 363v7M564 369v7M565 367v7M565 371v7M565 374v7M565 410v7M566 372v7M566 376v7M566 368v7M566 371v7M566 377v7M566 377v7M567 341v7M567 346v7M567 350v7M567 338v7M567 343v7M567 349v7M567 343v7M567 360v7M567 363v7M567 356v7M567 361v7M567 368v7M567 369v7M567 375v7M567 361v7M567 365v7M568 367v7M568 372v7M568 371v7M568 375v7M568 411v7M569 373v7M570 367v7M570 371v7M570 374v7M571 346v7M571 349v7M571 351v7M571 361v7M571 364v7M571 363v7M571 359v7M571 369v7M571 355v7M571 359v7M571 364v7M571 371v7M571 367v7M571 374v7M571 409v7M571 374v7M571 410v7M572 346v7M572 350v7M572 364v7M572 368v7M572 371v7M572 412v7M573 365v7M573 368v7M573 371v7M574 370v7M574 359v7M574 363v7M574 366v7M574 369v7M574 412v7M574 408v7M574 410v7M575 338v7M575 342v7M575 342v7M575 350v7M575 352v7M575 353v7M575 363v7M575 350v7M575 353v7M575 361v7M575 363v7M575 367v7M575 368v7M575 365v7M575 370v7M575 409v7M575 409v7M576 338v7M576 341v7M576 352v7M576 356v7M576 363v7M576 366v7M576 370v7M576 369v7M577 351v7M577 356v7M577 361v7M577 363v7M577 368v7M578 347v7M578 351v7M578 357v7M578 362v7M578 365v7M578 368v7M578 359v7M578 363v7M578 366v7M578 410v7M579 351v7M579 355v7M579 361v7M579 367v7M579 367v7M580 346v7M580 342v7M580 346v7M580 350v7M580 354v7M580 359v7M580 361v7M580 367v7M580 353v7M580 356v7M580 362v7M580 365v7M580 410v7M581 353v7M581 348v7M581 353v7M581 357v7M581 362v7M581 369v7M581 368v7M581 368v7M581 412v7M582 358v7M582 364v7M582 363v7M582 368v7M582 411v7M582 412v7M583 351v7M583 355v7M583 358v7M583 365v7M583 365v7M583 361v7M583 365v7M583 370v7M583 372v7M583 408v7M583 412v7M583 409v7M584 350v7M584 354v7M584 356v7M584 410v7M584 410v7M585 341v7M585 342v7M585 345v7M585 361v7M585 343v7M585 369v7M585 351v7M585 354v7M585 359v7M585 362v7M585 369v7M585 371v7M585 372v7M585 410v7M585 410v7M586 369v7M586 374v7M587 393v7M588 379v7M588 384v7M588 375v7M588 378v7M588 385v7M588 389v7M588 395v7M588 399v7M588 401v7M588 377v7M588 381v7M588 386v7M588 387v7M588 389v7M588 394v7M588 398v7M588 404v7M588 402v7M588 409v7M589 383v7M589 387v7M94 343v7M94 346v7M94 349v7M94 352v7M94 355v7M94 358v7M94 361v7M94 364v7M94 367v7M94 370v7M94 373v7M94 376v7M94 379v7M94 382v7M94 385v7M94 388v7M94 391v7M94 394v7M94 397v7M94 400v7M94 403v7M94 406v7M94 409v7M140 69v7M119 110v7M140 114v7M119 120v7M119 137v7M119 140v7M124 150v7M125 157v7M123 159v7M119 162v7M120 172v7M118 169v7M120 179v7M117 187v7M120 187v7M124 187v7M138 187v7M118 192v7M118 199v7M124 202v7M138 199v7M139 202v7M117 206v7M124 208v7M119 213v7M123 215v7M117 219v7M139 216v7M139 226v7M95 222v7M95 226v7M119 226v7M124 229v7M123 232v7M117 234v7M120 236v7M133 234v7M140 232v7M144 238v7M95 239v7M119 242v7M123 243v7M134 242v7M138 243v7M232 141v7M232 151v7M231 159v7M231 166v7M232 208v7M231 221v7M231 237v7M269 73v7M269 76v7M268 81v7M294 79v7M269 101v7M268 104v7M294 111v7M294 121v7M294 131v7M268 123v7M269 132v7M270 143v7M270 154v7M270 157v7M588 151v7M574 164v7M574 168v7M577 170v7M574 171v7M574 177v7M576 182v7M588 185v7M574 194v7M577 202v7M576 211v7M577 224v7M574 231v7M576 247v7M574 252v7M577 254v7M270 179v7M294 186v7M269 191v7M272 193v7M271 199v7M271 208v7M273 211v7M268 225v7M270 226v7M273 225v7M295 224v7M272 233v7M273 248v7M270 252v7M270 261v7M269 269v7M272 273v7M274 275v7M244 284v7M281 280v7M280 283v7M295 281v7M304 276v7M328 230v7M328 241v7M328 256v7M328 262v7M329 272v7M329 278v7M318 267v7M318 276v7M318 286v7M351 248v7M351 256v7M351 268v7M370 263v7M377 260v7M396 254v7M396 257v7M395 277v7M397 276v7M365 279v7M370 282v7M365 284v7M461 276v7M461 282v7M395 287v7M383 296v7M390 301v7M396 304v7M395 309v7M383 305v7M382 310v7M388 316v7M388 321v7M388 327v7M395 322v7M442 298v7M460 289v7M462 291v7M461 294v7M461 301v7M478 287v7M478 299v7M462 313v7M462 318v7M478 312v7M478 315v7M478 318v7M493 318v7M493 328v7M491 332v7M477 328v7M478 331v7M477 339v7M478 342v7M462 338v7M462 346v7M447 318v7M442 321v7M442 327v7M432 324v7M430 332v7M432 335v7M433 346v7M431 349v7M493 349v7M574 274v7M576 279v7M585 273v7M585 280v7M577 286v7M574 292v7M578 291v7M585 302v7M550 295v7M551 302v7M560 291v7M560 297v7M560 304v7M561 309v7M534 301v7M534 304v7M504 300v7M481 288v7M503 318v7M503 327v7M503 333v7M503 339v7M503 347v7M503 353v7M574 313v7M575 317v7M584 318v7M583 324v7M585 325v7M582 331v7M581 337v7M535 312v7M531 316v7M544 313v7M552 311v7M561 317v7M142 250v7M145 255v7M232 266v7M171 274v7M171 277v7M156 281v7M156 291v7M164 278v7M164 284v7M165 289v7M164 293v7M200 273v7M201 277v7M202 282v7M198 287v7M198 291v7M215 273v7M181 297v7M181 301v7M190 295v7M191 300v7M190 306v7M191 310v7M157 304v7M159 307v7M157 318v7M172 308v7M173 312v7M181 312v7M180 318v7M204 299v7M203 304v7M202 312v7M202 318v7M214 292v7M220 294v7M219 301v7M217 306v7M232 290v7M230 295v7M229 302v7M230 306v7M231 312v7M238 293v7M238 304v7M241 308v7M243 288v7M253 299v7M253 304v7M253 310v7M254 323v7M222 312v7M224 318v7M219 321v7M192 319v7M196 323v7M243 318v7M239 323v7M280 291v7M281 298v7M305 291v7M304 295v7M272 300v7M272 304v7M271 307v7M263 308v7M281 310v7M282 314v7M263 318v7M318 299v7M318 309v7M319 317v7M330 294v7M330 299v7M330 309v7M330 314v7M331 319v7M342 304v7M342 312v7M342 319v7M350 293v7M351 297v7M350 304v7M351 312v7M365 287v7M366 295v7M368 299v7M369 304v7M369 310v7M368 318v7M364 319v7M365 323v7M377 310v7M377 318v7M271 319v7M275 320v7M278 323v7M282 320v7M283 324v7M95 245v7" stroke="#f00" stroke-width="1" fill="none"/>
<path d="M94.5 57.5H609.5V419.5H94.5Z" stroke="#000" stroke-width="1" fill="none"/>
<g class="tx"><text transform="translate(80 424.0) scale(1 1)" text-anchor="end">0</text>
<text transform="translate(80 383.8) scale(1 1)" text-anchor="end">0.02</text>
<text transform="translate(80 343.6) scale(1 1)" text-anchor="end">0.04</text>
<text transform="translate(80 303.3) scale(1 1)" text-anchor="end">0.06</text>
<text transform="translate(80 263.1) scale(1 1)" text-anchor="end">0.08</text>
<text transform="translate(80 222.9) scale(1 1)" text-anchor="end">0.1</text>
<text transform="translate(80 182.7) scale(1 1)" text-anchor="end">0.12</text>
<text transform="translate(80 142.4) scale(1 1)" text-anchor="end">0.14</text>
<text transform="translate(80 102.2) scale(1 1)" text-anchor="end">0.16</text>
<text transform="translate(80 62.0) scale(1 1)" text-anchor="end">0.18</text>
<text transform="translate(94.5 443) scale(1 1)" text-anchor="middle">0</text>
<text transform="translate(197.5 443) scale(1 1)" text-anchor="middle">5</text>
<text transform="translate(300.5 443) scale(1 1)" text-anchor="middle">10</text>
<text transform="translate(403.5 443) scale(1 1)" text-anchor="middle">15</text>
<text transform="translate(506.5 443) scale(1 1)" text-anchor="middle">20</text>
<text transform="translate(609.5 443) scale(1 1)" text-anchor="middle">25</text>
<text transform="translate(350 33) scale(1 1)" text-anchor="middle">Day 221 of 2024, Rate Of TEC Index for receiver thev</text>
<text transform="translate(350 471) scale(1 1)" text-anchor="middle">GPS time / hours</text>
<text transform="translate(18.5 239.8) rotate(-90) scale(1 1)" text-anchor="middle">ROTI / TECUs</text></g>
</svg></body></html>
